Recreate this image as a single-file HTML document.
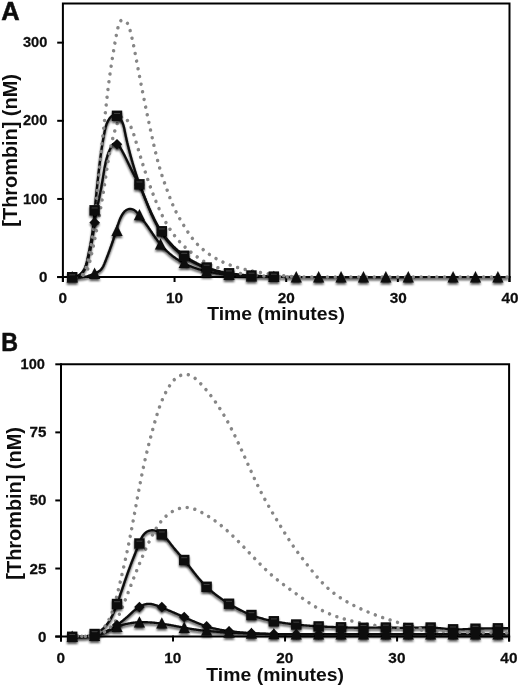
<!DOCTYPE html>
<html><head><meta charset="utf-8"><title>Thrombin generation</title>
<style>
html,body{margin:0;padding:0;background:#fff;}
body{width:520px;height:687px;overflow:hidden;}
svg{display:block;}
text{font-family:"Liberation Sans",sans-serif;font-weight:bold;fill:#0d0d0d;}
.tk{font-size:15.4px;stroke:#0d0d0d;stroke-width:0.25px;}
.ttl{font-size:18.8px;}
.pl{font-size:25px;stroke:#0d0d0d;stroke-width:0.5px;}
.ax{stroke:#000;stroke-width:2.0;fill:none;stroke-linecap:square;}
.ln{stroke:#0a0a0a;stroke-width:2.35;fill:none;stroke-linejoin:round;}
.dot{stroke:#868686;stroke-width:3.5;fill:none;stroke-linecap:round;stroke-dasharray:0.01 7.8;}
.mk{fill:#0c0c0c;}
</style></head><body>
<svg width="520" height="687" viewBox="0 0 520 687">
<defs>
<filter id="sh" x="-20%" y="-20%" width="140%" height="150%"><feGaussianBlur in="SourceAlpha" stdDeviation="1.3"/><feOffset dx="0" dy="1.7"/><feComponentTransfer><feFuncA type="linear" slope="0.7"/></feComponentTransfer><feMerge><feMergeNode/><feMergeNode in="SourceGraphic"/></feMerge></filter>
<filter id="soft"><feGaussianBlur stdDeviation="0.35"/></filter>
</defs>
<rect width="520" height="687" fill="#fff"/>
<g filter="url(#soft)">

<path class="ax" d="M62.90 281.00 V3.60 H509.50 V281.00"/>
<path class="ax" d="M58.20 277.10 H509.50"/>
<path class="ax" d="M58.20 42.65 H62.90"/>
<text class="tk" text-anchor="end" transform="translate(47.30 47.25) scale(0.950 1)">300</text>
<path class="ax" d="M58.20 120.80 H62.90"/>
<text class="tk" text-anchor="end" transform="translate(47.30 125.40) scale(0.950 1)">200</text>
<path class="ax" d="M58.20 198.95 H62.90"/>
<text class="tk" text-anchor="end" transform="translate(47.30 203.55) scale(0.950 1)">100</text>
<path class="ax" d="M58.20 277.10 H62.90"/>
<text class="tk" text-anchor="end" transform="translate(47.40 281.70) scale(0.985 1)">0</text>
<path class="ax" d="M62.90 277.10 V281.00"/>
<text class="tk" text-anchor="middle" transform="translate(62.70 303.10) scale(0.997 1)">0</text>
<path class="ax" d="M174.55 277.10 V281.00"/>
<text class="tk" text-anchor="middle" transform="translate(174.53 303.10) scale(0.997 1)">10</text>
<path class="ax" d="M286.20 277.10 V281.00"/>
<text class="tk" text-anchor="middle" transform="translate(286.35 303.10) scale(0.997 1)">20</text>
<path class="ax" d="M397.85 277.10 V281.00"/>
<text class="tk" text-anchor="middle" transform="translate(398.18 303.10) scale(0.997 1)">30</text>
<path class="ax" d="M509.50 277.10 V281.00"/>
<text class="tk" text-anchor="middle" transform="translate(510.00 303.10) scale(0.997 1)">40</text>
<g filter="url(#sh)">
<path class="ln" d="M72.00 277.00 L73.06 277.19 L74.10 277.34 L75.14 277.46 L76.16 277.53 L77.18 277.58 L78.19 277.58 L79.19 277.56 L80.18 277.50 L81.17 277.41 L82.16 277.29 L83.13 277.15 L84.11 276.97 L85.08 276.77 L86.04 276.54 L87.00 276.29 L87.96 276.01 L88.92 275.71 L89.88 275.39 L90.84 275.05 L91.79 274.69 L92.75 274.32 L93.71 273.92 L94.67 273.51 L95.63 273.08 L96.58 272.63 L97.51 272.15 L98.40 271.63 L99.25 271.07 L100.04 270.46 L100.77 269.79 L101.43 269.06 L102.02 268.28 L102.56 267.46 L103.06 266.60 L103.51 265.71 L103.93 264.79 L104.34 263.85 L104.72 262.91 L105.10 261.96 L105.48 261.01 L105.85 260.06 L106.23 259.11 L106.60 258.16 L106.97 257.21 L107.33 256.26 L107.70 255.31 L108.06 254.36 L108.42 253.41 L108.77 252.46 L109.13 251.51 L109.48 250.56 L109.83 249.61 L110.17 248.66 L110.52 247.71 L110.86 246.75 L111.20 245.80 L111.53 244.85 L111.86 243.90 L112.19 242.94 L112.52 241.99 L112.84 241.03 L113.16 240.08 L113.48 239.12 L113.80 238.17 L114.11 237.21 L114.42 236.26 L114.72 235.30 L115.02 234.34 L115.32 233.38 L115.62 232.42 L115.91 231.46 L116.20 230.50 L116.48 229.54 L116.77 228.58 L117.06 227.61 L117.35 226.65 L117.64 225.69 L117.95 224.73 L118.26 223.77 L118.58 222.82 L118.92 221.87 L119.27 220.91 L119.64 219.97 L120.03 219.02 L120.44 218.08 L120.87 217.14 L121.33 216.21 L121.81 215.29 L122.34 214.39 L122.90 213.52 L123.50 212.69 L124.16 211.91 L124.88 211.20 L125.67 210.56 L126.52 210.01 L127.42 209.55 L128.37 209.21 L129.34 209.00 L130.32 208.94 L131.30 209.02 L132.26 209.25 L133.19 209.60 L134.09 210.07 L134.94 210.63 L135.73 211.27 L136.47 211.99 L137.17 212.75 L137.83 213.55 L138.46 214.37 L139.09 215.19 L139.72 216.01 L140.36 216.81 L140.99 217.61 L141.63 218.40 L142.26 219.19 L142.89 219.97 L143.51 220.76 L144.13 221.55 L144.74 222.35 L145.35 223.15 L145.94 223.96 L146.53 224.77 L147.12 225.59 L147.70 226.41 L148.27 227.23 L148.84 228.06 L149.41 228.89 L149.97 229.72 L150.54 230.56 L151.10 231.39 L151.66 232.22 L152.22 233.06 L152.79 233.89 L153.35 234.73 L153.92 235.56 L154.49 236.39 L155.07 237.21 L155.65 238.04 L156.24 238.86 L156.83 239.67 L157.43 240.48 L158.03 241.29 L158.65 242.08 L159.27 242.88 L159.91 243.66 L160.55 244.44 L161.20 245.21 L161.87 245.97 L162.55 246.73 L163.23 247.47 L163.93 248.21 L164.64 248.94 L165.36 249.66 L166.08 250.37 L166.82 251.07 L167.56 251.76 L168.32 252.44 L169.08 253.12 L169.86 253.78 L170.64 254.43 L171.43 255.07 L172.23 255.71 L173.03 256.33 L173.85 256.94 L174.67 257.54 L175.50 258.13 L176.33 258.71 L177.18 259.27 L178.03 259.83 L178.88 260.37 L179.75 260.90 L180.62 261.42 L181.49 261.93 L182.38 262.43 L183.26 262.91 L184.16 263.38 L185.05 263.84 L185.96 264.28 L186.87 264.72 L187.78 265.14 L188.70 265.55 L189.62 265.94 L190.55 266.33 L191.49 266.71 L192.42 267.07 L193.36 267.42 L194.31 267.77 L195.26 268.10 L196.21 268.42 L197.17 268.74 L198.13 269.04 L199.09 269.34 L200.05 269.62 L201.02 269.90 L202.00 270.17 L202.97 270.43 L203.95 270.68 L204.93 270.92 L205.91 271.15 L206.89 271.38 L207.88 271.60 L208.87 271.82 L209.86 272.02 L210.85 272.22 L211.84 272.41 L212.84 272.60 L213.83 272.78 L214.83 272.95 L215.83 273.12 L216.82 273.29 L217.82 273.44 L218.82 273.60 L219.82 273.75 L220.82 273.89 L221.82 274.03 L222.82 274.16 L223.82 274.29 L224.83 274.41 L225.83 274.54 L226.83 274.65 L227.83 274.76 L228.84 274.87 L229.84 274.98 L230.84 275.07 L231.85 275.17 L232.85 275.26 L233.86 275.35 L234.86 275.44 L235.87 275.52 L236.88 275.60 L237.88 275.67 L238.89 275.74 L239.90 275.81 L240.90 275.87 L241.91 275.94 L242.92 276.00 L243.93 276.05 L244.93 276.11 L245.94 276.16 L246.95 276.20 L247.96 276.25 L248.97 276.29 L249.98 276.33 L250.99 276.37 L252.00 276.41 L253.00 276.44 L254.01 276.48 L255.02 276.51 L256.03 276.54 L257.04 276.56 L258.05 276.59 L259.07 276.61 L260.08 276.64 L261.09 276.66 L262.10 276.68 L263.11 276.70 L264.12 276.71 L265.13 276.73 L266.14 276.75 L267.15 276.76 L268.16 276.78 L269.17 276.79 L270.18 276.80 L271.19 276.82 L272.21 276.83 L273.22 276.84 L274.23 276.85 L275.24 276.86 L276.25 276.87 L277.26 276.88 L278.27 276.89 L279.28 276.91 L280.29 276.92 L281.30 276.93 L282.31 276.94 L283.32 276.95 L284.33 276.96 L285.35 276.96 L286.36 276.97 L287.37 276.98 L288.38 276.99 L289.39 277.00 L290.40 277.01 L291.41 277.02 L292.42 277.03 L293.43 277.03 L294.44 277.04 L295.45 277.05 L296.46 277.06 L297.47 277.06 L298.48 277.07 L299.49 277.08 L300.50 277.09 L301.51 277.09 L302.52 277.10 L303.53 277.11 L304.54 277.11 L305.55 277.12 L306.56 277.12 L307.57 277.13 L308.58 277.14 L309.59 277.14 L310.60 277.15 L311.61 277.15 L312.62 277.16 L313.63 277.16 L314.64 277.17 L315.65 277.17 L316.66 277.18 L317.67 277.18 L318.68 277.19 L319.69 277.19 L320.70 277.19 L321.71 277.20 L322.72 277.20 L323.73 277.21 L324.74 277.21 L325.75 277.21 L326.76 277.22 L327.77 277.22 L328.78 277.22 L329.79 277.22 L330.80 277.23 L331.81 277.23 L332.82 277.23 L333.83 277.24 L334.84 277.24 L335.85 277.24 L336.86 277.24 L337.87 277.24 L338.88 277.25 L339.89 277.25 L340.90 277.25 L341.91 277.25 L342.92 277.25 L343.93 277.25 L344.93 277.26 L345.94 277.26 L346.95 277.26 L347.96 277.26 L348.97 277.26 L349.98 277.26 L350.99 277.26 L352.00 277.26 L353.01 277.26 L354.02 277.26 L355.03 277.26 L356.04 277.26 L357.05 277.27 L358.06 277.27 L359.07 277.27 L360.08 277.27 L361.09 277.27 L362.10 277.27 L363.10 277.27 L364.11 277.27 L365.12 277.27 L366.13 277.26 L367.14 277.26 L368.15 277.26 L369.16 277.26 L370.17 277.26 L371.18 277.26 L372.19 277.26 L373.20 277.26 L374.21 277.26 L375.22 277.26 L376.23 277.26 L377.24 277.26 L378.24 277.26 L379.25 277.25 L380.26 277.25 L381.27 277.25 L382.28 277.25 L383.29 277.25 L384.30 277.25 L385.31 277.25 L386.32 277.25 L387.33 277.24 L388.34 277.24 L389.35 277.24 L390.36 277.24 L391.37 277.24 L392.37 277.24 L393.38 277.23 L394.39 277.23 L395.40 277.23 L396.41 277.23 L397.42 277.23 L398.43 277.23 L399.44 277.22 L400.45 277.22 L401.46 277.22 L402.47 277.22 L403.48 277.22 L404.49 277.21 L405.49 277.21 L406.50 277.21 L407.51 277.21 L408.52 277.21 L409.53 277.21 L410.54 277.20 L411.55 277.20 L412.56 277.20 L413.57 277.20 L414.58 277.20 L415.59 277.19 L416.60 277.19 L417.61 277.19 L418.62 277.19 L419.63 277.19 L420.63 277.18 L421.64 277.18 L422.65 277.18 L423.66 277.18 L424.67 277.18 L425.68 277.17 L426.69 277.17 L427.70 277.17 L428.71 277.17 L429.72 277.17 L430.73 277.16 L431.74 277.16 L432.75 277.16 L433.76 277.16 L434.77 277.16 L435.78 277.16 L436.79 277.15 L437.80 277.15 L438.80 277.15 L439.81 277.15 L440.82 277.15 L441.83 277.15 L442.84 277.14 L443.85 277.14 L444.86 277.14 L445.87 277.14 L446.88 277.14 L447.89 277.14 L448.90 277.14 L449.91 277.14 L450.92 277.13 L451.93 277.13 L452.94 277.13 L453.95 277.13 L454.96 277.13 L455.97 277.13 L456.98 277.13 L457.99 277.13 L459.00 277.13 L460.01 277.13 L461.02 277.13 L462.03 277.13 L463.04 277.13 L464.05 277.13 L465.06 277.13 L466.07 277.12 L467.08 277.12 L468.09 277.12 L469.10 277.12 L470.11 277.12 L471.12 277.12 L472.13 277.13 L473.14 277.13 L474.15 277.13 L475.16 277.13 L476.17 277.13 L477.18 277.13 L478.19 277.13 L479.20 277.13 L480.21 277.13 L481.22 277.13 L482.23 277.13 L483.24 277.13 L484.25 277.13 L485.26 277.14 L486.27 277.14 L487.28 277.14 L488.29 277.14 L489.30 277.14 L490.31 277.14 L491.32 277.15 L492.33 277.15 L493.34 277.15 L494.35 277.15 L495.36 277.15 L496.37 277.16 L497.38 277.16 L498.39 277.16 L499.40 277.17 L500.41 277.17 L501.43 277.17 L502.44 277.17 L503.45 277.18 L504.46 277.18 L505.47 277.19 L506.48 277.19 L507.49 277.19 L508.50 277.20"/>
<path class="ln" d="M72.00 277.20 L72.71 277.17 L73.43 277.09 L74.15 276.98 L74.89 276.82 L75.62 276.63 L76.35 276.39 L77.08 276.12 L77.79 275.82 L78.50 275.48 L79.19 275.11 L79.86 274.71 L80.50 274.28 L81.12 273.81 L81.71 273.32 L82.27 272.80 L82.79 272.26 L83.27 271.68 L83.71 271.09 L84.11 270.47 L84.48 269.84 L84.82 269.18 L85.13 268.51 L85.41 267.83 L85.67 267.13 L85.92 266.42 L86.15 265.71 L86.37 264.99 L86.58 264.27 L86.79 263.54 L86.99 262.81 L87.20 262.09 L87.40 261.36 L87.60 260.63 L87.79 259.91 L87.99 259.18 L88.18 258.45 L88.37 257.72 L88.56 257.00 L88.74 256.27 L88.93 255.54 L89.11 254.81 L89.29 254.08 L89.47 253.35 L89.64 252.62 L89.81 251.89 L89.98 251.16 L90.15 250.43 L90.31 249.70 L90.48 248.97 L90.64 248.24 L90.79 247.51 L90.94 246.77 L91.10 246.04 L91.24 245.31 L91.39 244.57 L91.53 243.84 L91.67 243.10 L91.80 242.37 L91.94 241.63 L92.07 240.89 L92.19 240.15 L92.31 239.41 L92.43 238.68 L92.55 237.94 L92.67 237.19 L92.78 236.45 L92.89 235.71 L92.99 234.97 L93.10 234.23 L93.20 233.48 L93.30 232.74 L93.40 232.00 L93.50 231.25 L93.60 230.51 L93.69 229.76 L93.79 229.02 L93.89 228.27 L93.98 227.53 L94.08 226.78 L94.17 226.04 L94.27 225.29 L94.36 224.55 L94.46 223.80 L94.56 223.06 L94.65 222.32 L94.75 221.57 L94.85 220.83 L94.96 220.08 L95.06 219.34 L95.17 218.60 L95.27 217.85 L95.38 217.11 L95.50 216.37 L95.61 215.63 L95.73 214.89 L95.85 214.15 L95.98 213.41 L96.10 212.67 L96.24 211.93 L96.37 211.19 L96.51 210.46 L96.65 209.72 L96.80 208.99 L96.95 208.25 L97.11 207.52 L97.27 206.79 L97.43 206.05 L97.59 205.32 L97.75 204.59 L97.91 203.86 L98.08 203.13 L98.24 202.40 L98.41 201.66 L98.57 200.93 L98.73 200.20 L98.89 199.47 L99.05 198.73 L99.21 198.00 L99.36 197.26 L99.51 196.53 L99.66 195.79 L99.81 195.06 L99.96 194.32 L100.11 193.59 L100.25 192.85 L100.40 192.11 L100.54 191.38 L100.68 190.64 L100.82 189.90 L100.95 189.17 L101.09 188.43 L101.22 187.69 L101.36 186.95 L101.49 186.21 L101.62 185.47 L101.75 184.73 L101.88 183.99 L102.01 183.25 L102.14 182.52 L102.26 181.78 L102.39 181.04 L102.51 180.30 L102.64 179.56 L102.76 178.82 L102.88 178.08 L103.00 177.33 L103.12 176.59 L103.25 175.85 L103.37 175.11 L103.48 174.37 L103.60 173.63 L103.72 172.89 L103.85 172.15 L103.97 171.41 L104.09 170.67 L104.22 169.94 L104.34 169.20 L104.47 168.46 L104.60 167.72 L104.74 166.98 L104.88 166.25 L105.02 165.51 L105.17 164.78 L105.32 164.05 L105.48 163.31 L105.64 162.58 L105.80 161.85 L105.98 161.12 L106.15 160.40 L106.34 159.67 L106.53 158.94 L106.73 158.22 L106.94 157.50 L107.15 156.78 L107.37 156.06 L107.60 155.34 L107.84 154.62 L108.09 153.91 L108.35 153.20 L108.62 152.49 L108.90 151.78 L109.19 151.07 L109.49 150.37 L109.80 149.67 L110.12 148.97 L110.46 148.27 L110.80 147.57 L111.16 146.88 L111.53 146.19 L111.93 145.53 L112.35 144.92 L112.82 144.39 L113.34 143.98 L113.92 143.70 L114.58 143.59 L115.29 143.64 L116.01 143.83 L116.71 144.13 L117.36 144.50 L117.96 144.94 L118.52 145.44 L119.04 146.00 L119.52 146.60 L119.98 147.23 L120.41 147.89 L120.82 148.57 L121.22 149.25 L121.61 149.94 L121.99 150.63 L122.37 151.31 L122.74 152.00 L123.10 152.68 L123.46 153.36 L123.82 154.04 L124.17 154.71 L124.51 155.39 L124.85 156.07 L125.19 156.74 L125.52 157.41 L125.85 158.08 L126.18 158.76 L126.50 159.43 L126.82 160.10 L127.14 160.76 L127.46 161.43 L127.78 162.10 L128.09 162.77 L128.41 163.43 L128.72 164.10 L129.04 164.76 L129.35 165.43 L129.67 166.09 L129.99 166.76 L130.31 167.42 L130.63 168.09 L130.95 168.75 L131.27 169.41 L131.60 170.08 L131.93 170.74 L132.27 171.41 L132.60 172.07 L132.94 172.74 L133.29 173.40 L133.64 174.07 L133.99 174.74 L134.34 175.40 L134.70 176.07 L135.06 176.74 L135.42 177.41 L135.78 178.08 L136.14 178.75 L136.50 179.42 L136.86 180.09 L137.22 180.76 L137.57 181.44 L137.92 182.11 L138.27 182.79 L138.62 183.46 L138.96 184.14 L139.30 184.82 L139.63 185.50 L139.95 186.18 L140.28 186.86 L140.59 187.54 L140.90 188.22 L141.21 188.91 L141.51 189.59 L141.81 190.28 L142.11 190.97 L142.40 191.65 L142.69 192.34 L142.98 193.03 L143.26 193.72 L143.54 194.41 L143.82 195.10 L144.10 195.79 L144.37 196.48 L144.64 197.17 L144.92 197.87 L145.19 198.56 L145.46 199.25 L145.73 199.94 L146.00 200.64 L146.26 201.33 L146.53 202.02 L146.80 202.72 L147.07 203.41 L147.34 204.10 L147.61 204.80 L147.89 205.49 L148.16 206.18 L148.44 206.88 L148.71 207.57 L148.99 208.26 L149.27 208.95 L149.56 209.64 L149.85 210.34 L150.14 211.03 L150.43 211.72 L150.73 212.41 L151.03 213.10 L151.33 213.79 L151.64 214.47 L151.95 215.16 L152.26 215.85 L152.58 216.53 L152.90 217.21 L153.23 217.90 L153.55 218.58 L153.88 219.26 L154.22 219.93 L154.56 220.61 L154.90 221.29 L155.25 221.96 L155.60 222.63 L155.95 223.30 L156.31 223.97 L156.67 224.63 L157.03 225.30 L157.40 225.96 L157.77 226.62 L158.15 227.27 L158.53 227.93 L158.91 228.58 L159.30 229.23 L159.70 229.88 L160.09 230.52 L160.49 231.16 L160.90 231.80 L161.31 232.43 L161.72 233.07 L162.14 233.69 L162.56 234.32 L162.98 234.94 L163.41 235.56 L163.85 236.18 L164.29 236.79 L164.73 237.40 L165.18 238.00 L165.63 238.60 L166.09 239.20 L166.55 239.79 L167.02 240.38 L167.49 240.96 L167.96 241.54 L168.44 242.12 L168.93 242.69 L169.42 243.26 L169.91 243.82 L170.41 244.38 L170.91 244.93 L171.42 245.48 L171.94 246.03 L172.45 246.56 L172.98 247.10 L173.51 247.63 L174.04 248.15 L174.58 248.67 L175.12 249.18 L175.67 249.69 L176.22 250.20 L176.78 250.69 L177.34 251.19 L177.90 251.68 L178.47 252.16 L179.05 252.64 L179.62 253.11 L180.21 253.58 L180.79 254.04 L181.38 254.50 L181.98 254.96 L182.58 255.40 L183.18 255.85 L183.79 256.28 L184.40 256.72 L185.01 257.14 L185.63 257.57 L186.25 257.98 L186.88 258.40 L187.51 258.80 L188.14 259.21 L188.77 259.60 L189.41 260.00 L190.05 260.38 L190.70 260.76 L191.35 261.14 L192.00 261.51 L192.66 261.88 L193.31 262.24 L193.97 262.60 L194.64 262.95 L195.31 263.29 L195.98 263.64 L196.65 263.97 L197.32 264.30 L198.00 264.63 L198.68 264.95 L199.36 265.26 L200.05 265.57 L200.74 265.88 L201.43 266.18 L202.12 266.47 L202.81 266.76 L203.51 267.04 L204.21 267.32 L204.91 267.60 L205.61 267.87 L206.32 268.13 L207.02 268.39 L207.73 268.64 L208.44 268.89 L209.15 269.13 L209.87 269.37 L210.58 269.60 L211.30 269.83 L212.02 270.05 L212.74 270.27 L213.46 270.48 L214.18 270.68 L214.91 270.88 L215.63 271.08 L216.36 271.27 L217.08 271.45 L217.81 271.63 L218.54 271.81 L219.27 271.98 L220.00 272.14 L220.74 272.30 L221.47 272.46 L222.20 272.61 L222.94 272.75 L223.67 272.89 L224.41 273.03 L225.15 273.16 L225.89 273.29 L226.62 273.41 L227.36 273.53 L228.10 273.65 L228.84 273.76 L229.59 273.86 L230.33 273.97 L231.07 274.07 L231.81 274.16 L232.56 274.26 L233.30 274.35 L234.05 274.43 L234.79 274.51 L235.54 274.59 L236.29 274.67 L237.03 274.75 L237.78 274.82 L238.53 274.89 L239.28 274.95 L240.03 275.01 L240.77 275.08 L241.52 275.13 L242.27 275.19 L243.02 275.25 L243.77 275.30 L244.52 275.35 L245.27 275.40 L246.03 275.44 L246.78 275.49 L247.53 275.53 L248.28 275.57 L249.03 275.61 L249.78 275.65 L250.53 275.69 L251.28 275.73 L252.04 275.77 L252.79 275.80 L253.54 275.84 L254.29 275.87 L255.04 275.90 L255.79 275.94 L256.55 275.97 L257.30 276.00 L258.05 276.03 L258.80 276.06 L259.55 276.09 L260.30 276.13 L261.05 276.16 L261.80 276.19 L262.55 276.22 L263.30 276.26 L264.05 276.29 L264.80 276.32 L265.54 276.36 L266.29 276.39 L267.04 276.43 L267.79 276.47 L268.53 276.51 L269.28 276.55 L270.03 276.59 L270.77 276.63 L271.52 276.67 L272.26 276.72 L273.00 276.77 L273.75 276.81"/>
<path class="ln" d="M71.98 277.19 L72.93 277.18 L73.85 277.11 L74.73 276.96 L75.59 276.75 L76.41 276.49 L77.20 276.16 L77.96 275.78 L78.69 275.36 L79.38 274.88 L80.05 274.36 L80.68 273.80 L81.28 273.20 L81.85 272.57 L82.39 271.90 L82.90 271.21 L83.38 270.50 L83.83 269.76 L84.25 269.00 L84.64 268.23 L85.00 267.45 L85.33 266.66 L85.63 265.86 L85.92 265.05 L86.18 264.23 L86.42 263.41 L86.65 262.58 L86.86 261.74 L87.06 260.90 L87.25 260.06 L87.43 259.22 L87.61 258.37 L87.78 257.53 L87.96 256.68 L88.13 255.84 L88.31 254.99 L88.48 254.15 L88.66 253.31 L88.83 252.46 L89.00 251.62 L89.17 250.77 L89.34 249.93 L89.51 249.09 L89.68 248.24 L89.84 247.40 L90.01 246.56 L90.17 245.71 L90.33 244.87 L90.49 244.02 L90.65 243.18 L90.80 242.34 L90.95 241.49 L91.10 240.65 L91.25 239.80 L91.40 238.95 L91.54 238.11 L91.68 237.26 L91.82 236.42 L91.95 235.57 L92.08 234.72 L92.21 233.87 L92.34 233.02 L92.46 232.18 L92.58 231.33 L92.69 230.47 L92.80 229.62 L92.91 228.77 L93.02 227.92 L93.12 227.07 L93.22 226.21 L93.31 225.36 L93.41 224.50 L93.50 223.65 L93.59 222.79 L93.67 221.94 L93.76 221.08 L93.84 220.23 L93.92 219.37 L94.01 218.51 L94.08 217.66 L94.16 216.80 L94.24 215.94 L94.32 215.09 L94.40 214.23 L94.47 213.37 L94.55 212.51 L94.63 211.66 L94.70 210.80 L94.78 209.94 L94.86 209.08 L94.94 208.23 L95.02 207.37 L95.10 206.51 L95.18 205.66 L95.26 204.80 L95.34 203.94 L95.42 203.09 L95.50 202.23 L95.58 201.37 L95.67 200.52 L95.75 199.66 L95.83 198.81 L95.92 197.95 L96.00 197.09 L96.09 196.24 L96.17 195.38 L96.26 194.53 L96.35 193.67 L96.43 192.82 L96.52 191.96 L96.61 191.10 L96.70 190.25 L96.79 189.39 L96.88 188.54 L96.97 187.68 L97.06 186.83 L97.15 185.97 L97.24 185.12 L97.33 184.27 L97.42 183.41 L97.51 182.56 L97.61 181.70 L97.70 180.85 L97.79 179.99 L97.89 179.14 L97.98 178.29 L98.07 177.43 L98.17 176.58 L98.26 175.72 L98.36 174.87 L98.46 174.02 L98.55 173.16 L98.65 172.31 L98.75 171.46 L98.84 170.60 L98.94 169.75 L99.04 168.90 L99.14 168.05 L99.24 167.19 L99.34 166.34 L99.44 165.49 L99.54 164.64 L99.65 163.78 L99.75 162.93 L99.85 162.08 L99.96 161.23 L100.07 160.37 L100.17 159.52 L100.28 158.67 L100.39 157.82 L100.50 156.97 L100.62 156.12 L100.73 155.27 L100.84 154.42 L100.96 153.56 L101.08 152.71 L101.20 151.86 L101.32 151.01 L101.44 150.16 L101.57 149.31 L101.69 148.46 L101.82 147.61 L101.95 146.76 L102.08 145.92 L102.21 145.07 L102.35 144.22 L102.49 143.37 L102.63 142.52 L102.77 141.67 L102.91 140.82 L103.06 139.98 L103.20 139.13 L103.36 138.28 L103.51 137.43 L103.66 136.59 L103.82 135.74 L103.98 134.89 L104.14 134.05 L104.31 133.20 L104.48 132.35 L104.65 131.51 L104.82 130.66 L105.00 129.82 L105.19 128.98 L105.39 128.14 L105.61 127.30 L105.84 126.47 L106.08 125.64 L106.35 124.82 L106.64 124.00 L106.96 123.19 L107.30 122.39 L107.67 121.59 L108.07 120.81 L108.51 120.03 L108.99 119.26 L109.50 118.51 L110.05 117.79 L110.64 117.13 L111.27 116.54 L111.93 116.03 L112.64 115.64 L113.38 115.38 L114.16 115.25 L114.95 115.26 L115.75 115.39 L116.53 115.65 L117.28 116.02 L117.99 116.49 L118.68 117.05 L119.32 117.68 L119.93 118.38 L120.50 119.12 L121.02 119.90 L121.50 120.70 L121.94 121.51 L122.33 122.32 L122.68 123.14 L123.00 123.96 L123.28 124.78 L123.53 125.60 L123.76 126.42 L123.97 127.25 L124.16 128.07 L124.33 128.90 L124.50 129.73 L124.66 130.56 L124.83 131.40 L124.99 132.23 L125.16 133.06 L125.33 133.90 L125.50 134.73 L125.68 135.57 L125.86 136.40 L126.04 137.24 L126.22 138.08 L126.41 138.92 L126.60 139.75 L126.79 140.59 L126.99 141.43 L127.19 142.27 L127.38 143.11 L127.59 143.94 L127.79 144.78 L127.99 145.62 L128.20 146.46 L128.41 147.29 L128.62 148.13 L128.83 148.96 L129.04 149.80 L129.26 150.63 L129.48 151.47 L129.69 152.30 L129.91 153.13 L130.14 153.97 L130.36 154.80 L130.58 155.63 L130.81 156.46 L131.04 157.29 L131.27 158.12 L131.50 158.95 L131.73 159.78 L131.97 160.61 L132.20 161.43 L132.44 162.26 L132.68 163.09 L132.92 163.91 L133.17 164.74 L133.41 165.56 L133.66 166.39 L133.91 167.21 L134.16 168.03 L134.41 168.85 L134.67 169.67 L134.92 170.49 L135.18 171.31 L135.44 172.13 L135.70 172.95 L135.97 173.77 L136.23 174.59 L136.50 175.40 L136.77 176.22 L137.04 177.03 L137.32 177.85 L137.59 178.66 L137.87 179.47 L138.15 180.28 L138.43 181.09 L138.71 181.91 L139.00 182.71 L139.29 183.52 L139.58 184.33 L139.87 185.14 L140.16 185.95 L140.46 186.75 L140.76 187.56 L141.06 188.36 L141.36 189.16 L141.66 189.97 L141.97 190.77 L142.28 191.57 L142.59 192.37 L142.90 193.17 L143.21 193.97 L143.53 194.77 L143.85 195.56 L144.17 196.36 L144.49 197.16 L144.81 197.95 L145.14 198.75 L145.47 199.54 L145.80 200.34 L146.13 201.13 L146.46 201.92 L146.80 202.71 L147.14 203.51 L147.48 204.30 L147.82 205.09 L148.16 205.88 L148.51 206.67 L148.85 207.45 L149.20 208.24 L149.56 209.03 L149.91 209.82 L150.26 210.60 L150.62 211.39 L150.98 212.17 L151.34 212.96 L151.71 213.74 L152.07 214.52 L152.44 215.30 L152.81 216.08 L153.19 216.86 L153.57 217.63 L153.95 218.41 L154.34 219.18 L154.73 219.95 L155.12 220.71 L155.52 221.48 L155.92 222.24 L156.33 223.00 L156.74 223.76 L157.15 224.51 L157.58 225.26 L158.00 226.01 L158.43 226.76 L158.87 227.50 L159.31 228.24 L159.76 228.97 L160.21 229.70 L160.67 230.43 L161.14 231.15 L161.61 231.87 L162.09 232.58 L162.57 233.29 L163.07 234.00 L163.56 234.70 L164.07 235.39 L164.58 236.08 L165.09 236.77 L165.61 237.45 L166.14 238.13 L166.68 238.80 L167.22 239.47 L167.76 240.13 L168.32 240.79 L168.87 241.44 L169.44 242.09 L170.01 242.73 L170.59 243.37 L171.17 244.00 L171.76 244.62 L172.35 245.25 L172.95 245.86 L173.55 246.47 L174.17 247.07 L174.78 247.67 L175.40 248.26 L176.03 248.85 L176.67 249.43 L177.30 250.00 L177.95 250.57 L178.60 251.13 L179.26 251.69 L179.92 252.24 L180.58 252.78 L181.25 253.32 L181.93 253.85 L182.61 254.38 L183.30 254.89 L184.00 255.41 L184.69 255.91 L185.40 256.41 L186.11 256.90 L186.82 257.38 L187.54 257.86 L188.26 258.33 L188.99 258.80 L189.72 259.25 L190.46 259.70 L191.20 260.15 L191.95 260.58 L192.69 261.01 L193.45 261.43 L194.21 261.85 L194.97 262.26 L195.73 262.66 L196.50 263.05 L197.27 263.44 L198.05 263.82 L198.83 264.20 L199.61 264.56 L200.39 264.92 L201.18 265.27 L201.97 265.62 L202.76 265.96 L203.56 266.29 L204.36 266.61 L205.16 266.92 L205.96 267.23 L206.77 267.53 L207.57 267.83 L208.38 268.12 L209.19 268.39 L210.01 268.67 L210.82 268.93 L211.64 269.19 L212.46 269.44 L213.28 269.69 L214.10 269.93 L214.93 270.16 L215.75 270.39 L216.58 270.61 L217.41 270.82 L218.24 271.03 L219.07 271.23 L219.90 271.43 L220.74 271.62 L221.57 271.80 L222.41 271.98 L223.25 272.16 L224.09 272.32 L224.93 272.49 L225.78 272.65 L226.62 272.80 L227.47 272.95 L228.31 273.09 L229.16 273.23 L230.01 273.37 L230.86 273.50 L231.71 273.62 L232.56 273.74 L233.41 273.86 L234.26 273.98 L235.12 274.09 L235.97 274.19 L236.83 274.29 L237.68 274.39 L238.54 274.49 L239.40 274.58 L240.26 274.67 L241.11 274.75 L241.97 274.83 L242.83 274.91 L243.69 274.99 L244.55 275.06 L245.41 275.13 L246.27 275.20 L247.13 275.26 L248.00 275.32 L248.86 275.38 L249.72 275.44 L250.58 275.50 L251.44 275.55 L252.30 275.60 L253.17 275.65 L254.03 275.70 L254.89 275.75 L255.75 275.80 L256.61 275.84 L257.47 275.88 L258.33 275.92 L259.19 275.96 L260.05 276.00 L260.91 276.04 L261.77 276.08 L262.63 276.12 L263.49 276.16 L264.35 276.19 L265.21 276.23 L266.07 276.26 L266.92 276.30 L267.78 276.33 L268.63 276.37 L269.49 276.41 L270.34 276.44 L271.19 276.48 L272.05 276.51 L272.90 276.55 L273.75 276.59"/>
</g>
<path class="dot" stroke-dashoffset="-2.8" d="M72.93 277.03 L74.27 277.30 L75.52 277.43 L76.68 277.44 L77.75 277.33 L78.74 277.11 L79.66 276.78 L80.50 276.36 L81.27 275.85 L81.98 275.26 L82.63 274.60 L83.22 273.86 L83.76 273.06 L84.26 272.21 L84.72 271.31 L85.13 270.37 L85.52 269.40 L85.88 268.40 L86.21 267.37 L86.52 266.34 L86.82 265.30 L87.11 264.26 L87.39 263.23 L87.66 262.20 L87.92 261.16 L88.17 260.13 L88.41 259.11 L88.65 258.08 L88.88 257.06 L89.10 256.04 L89.32 255.02 L89.52 254.00 L89.73 252.98 L89.92 251.96 L90.11 250.94 L90.30 249.93 L90.48 248.91 L90.65 247.89 L90.82 246.88 L90.99 245.86 L91.16 244.85 L91.32 243.83 L91.47 242.82 L91.63 241.80 L91.78 240.78 L91.93 239.77 L92.08 238.75 L92.22 237.73 L92.37 236.71 L92.51 235.69 L92.65 234.67 L92.78 233.64 L92.92 232.62 L93.05 231.60 L93.18 230.58 L93.31 229.55 L93.44 228.53 L93.56 227.50 L93.69 226.48 L93.81 225.45 L93.93 224.42 L94.05 223.40 L94.17 222.37 L94.28 221.34 L94.40 220.32 L94.51 219.29 L94.62 218.26 L94.74 217.23 L94.85 216.20 L94.95 215.17 L95.06 214.14 L95.17 213.11 L95.27 212.08 L95.38 211.05 L95.48 210.02 L95.58 208.99 L95.69 207.95 L95.79 206.92 L95.89 205.89 L95.99 204.86 L96.09 203.82 L96.18 202.79 L96.28 201.76 L96.38 200.73 L96.48 199.69 L96.57 198.66 L96.67 197.63 L96.77 196.59 L96.86 195.56 L96.96 194.53 L97.06 193.49 L97.15 192.46 L97.25 191.43 L97.34 190.39 L97.44 189.36 L97.54 188.33 L97.63 187.29 L97.73 186.26 L97.83 185.23 L97.92 184.19 L98.02 183.16 L98.12 182.13 L98.22 181.10 L98.32 180.06 L98.42 179.03 L98.52 178.00 L98.62 176.97 L98.72 175.93 L98.82 174.90 L98.92 173.87 L99.02 172.84 L99.12 171.81 L99.23 170.77 L99.33 169.74 L99.43 168.71 L99.54 167.68 L99.64 166.65 L99.75 165.62 L99.85 164.59 L99.96 163.56 L100.06 162.53 L100.17 161.50 L100.27 160.47 L100.38 159.43 L100.49 158.40 L100.59 157.37 L100.70 156.34 L100.81 155.31 L100.91 154.28 L101.02 153.25 L101.13 152.22 L101.24 151.19 L101.35 150.16 L101.45 149.13 L101.56 148.10 L101.67 147.08 L101.78 146.05 L101.89 145.02 L102.00 143.99 L102.11 142.96 L102.22 141.93 L102.33 140.90 L102.44 139.87 L102.55 138.84 L102.66 137.81 L102.77 136.78 L102.88 135.75 L102.99 134.72 L103.10 133.70 L103.21 132.67 L103.32 131.64 L103.43 130.61 L103.54 129.58 L103.65 128.55 L103.76 127.52 L103.88 126.49 L103.99 125.47 L104.10 124.44 L104.21 123.41 L104.32 122.38 L104.43 121.35 L104.54 120.32 L104.65 119.29 L104.76 118.27 L104.87 117.24 L104.98 116.21 L105.09 115.18 L105.20 114.15 L105.31 113.12 L105.42 112.10 L105.53 111.07 L105.64 110.04 L105.75 109.01 L105.86 107.98 L105.97 106.95 L106.08 105.93 L106.20 104.90 L106.31 103.87 L106.42 102.84 L106.53 101.81 L106.64 100.78 L106.76 99.75 L106.87 98.72 L106.99 97.70 L107.10 96.67 L107.22 95.64 L107.34 94.61 L107.46 93.58 L107.58 92.55 L107.70 91.52 L107.82 90.49 L107.94 89.46 L108.07 88.43 L108.20 87.40 L108.32 86.38 L108.45 85.35 L108.58 84.32 L108.71 83.29 L108.85 82.26 L108.98 81.23 L109.12 80.20 L109.26 79.17 L109.40 78.14 L109.54 77.11 L109.69 76.08 L109.83 75.05 L109.98 74.02 L110.12 72.99 L110.27 71.96 L110.42 70.93 L110.58 69.90 L110.73 68.87 L110.88 67.85 L111.04 66.82 L111.20 65.79 L111.35 64.77 L111.51 63.74 L111.67 62.72 L111.83 61.69 L111.99 60.67 L112.16 59.65 L112.32 58.62 L112.49 57.60 L112.65 56.58 L112.82 55.57 L112.98 54.55 L113.15 53.53 L113.32 52.52 L113.49 51.50 L113.66 50.49 L113.83 49.48 L114.00 48.46 L114.17 47.46 L114.34 46.45 L114.51 45.44 L114.68 44.44 L114.86 43.43 L115.03 42.43 L115.20 41.43 L115.38 40.43 L115.56 39.42 L115.74 38.42 L115.92 37.40 L116.11 36.39 L116.31 35.37 L116.51 34.34 L116.72 33.30 L116.94 32.25 L117.17 31.19 L117.41 30.11 L117.65 29.02 L117.91 27.92 L118.19 26.80 L118.47 25.67 L118.79 24.55 L119.14 23.48 L119.54 22.51 L120.01 21.65 L120.56 20.96 L121.21 20.47 L121.96 20.21 L122.80 20.19 L123.69 20.38 L124.59 20.75 L125.47 21.27 L126.27 21.92 L126.97 22.66 L127.57 23.48 L128.08 24.37 L128.52 25.31 L128.89 26.29 L129.22 27.30 L129.53 28.34 L129.81 29.37 L130.09 30.41 L130.36 31.45 L130.63 32.48 L130.89 33.51 L131.15 34.54 L131.40 35.57 L131.64 36.60 L131.88 37.62 L132.12 38.65 L132.35 39.67 L132.57 40.69 L132.80 41.71 L133.02 42.73 L133.23 43.75 L133.44 44.77 L133.65 45.79 L133.86 46.80 L134.06 47.82 L134.27 48.84 L134.46 49.85 L134.66 50.86 L134.86 51.88 L135.05 52.89 L135.24 53.90 L135.44 54.92 L135.63 55.93 L135.82 56.94 L136.01 57.95 L136.20 58.97 L136.39 59.98 L136.58 60.99 L136.77 62.01 L136.96 63.02 L137.15 64.03 L137.34 65.04 L137.54 66.06 L137.73 67.07 L137.92 68.09 L138.12 69.10 L138.31 70.11 L138.50 71.13 L138.70 72.14 L138.90 73.16 L139.09 74.17 L139.29 75.19 L139.48 76.20 L139.68 77.21 L139.88 78.23 L140.08 79.24 L140.27 80.26 L140.47 81.28 L140.67 82.29 L140.87 83.31 L141.07 84.32 L141.27 85.34 L141.47 86.35 L141.67 87.37 L141.87 88.38 L142.08 89.40 L142.28 90.41 L142.48 91.43 L142.68 92.45 L142.89 93.46 L143.09 94.48 L143.30 95.49 L143.50 96.51 L143.71 97.52 L143.91 98.54 L144.12 99.56 L144.32 100.57 L144.53 101.59 L144.74 102.60 L144.95 103.62 L145.16 104.64 L145.36 105.65 L145.57 106.67 L145.78 107.68 L145.99 108.70 L146.20 109.71 L146.42 110.73 L146.63 111.74 L146.84 112.76 L147.05 113.77 L147.26 114.79 L147.48 115.81 L147.69 116.82 L147.91 117.84 L148.12 118.85 L148.34 119.86 L148.55 120.88 L148.77 121.89 L148.98 122.91 L149.20 123.92 L149.42 124.94 L149.64 125.95 L149.86 126.97 L150.07 127.98 L150.29 128.99 L150.51 130.01 L150.73 131.02 L150.95 132.03 L151.18 133.05 L151.40 134.06 L151.62 135.07 L151.84 136.09 L152.07 137.10 L152.29 138.11 L152.51 139.12 L152.74 140.13 L152.96 141.15 L153.19 142.16 L153.42 143.17 L153.65 144.18 L153.88 145.19 L154.11 146.20 L154.34 147.21 L154.57 148.22 L154.81 149.23 L155.05 150.23 L155.29 151.24 L155.53 152.25 L155.77 153.25 L156.02 154.26 L156.26 155.26 L156.51 156.27 L156.77 157.27 L157.02 158.27 L157.28 159.27 L157.54 160.27 L157.81 161.27 L158.07 162.27 L158.34 163.27 L158.62 164.27 L158.90 165.26 L159.18 166.26 L159.46 167.25 L159.75 168.24 L160.04 169.23 L160.34 170.22 L160.64 171.21 L160.94 172.20 L161.25 173.18 L161.56 174.17 L161.88 175.15 L162.20 176.13 L162.53 177.11 L162.86 178.09 L163.20 179.07 L163.53 180.05 L163.88 181.03 L164.22 182.00 L164.57 182.98 L164.92 183.95 L165.27 184.93 L165.62 185.90 L165.97 186.87 L166.32 187.85 L166.68 188.82 L167.03 189.80 L167.38 190.77 L167.74 191.75 L168.09 192.73 L168.44 193.70 L168.80 194.68 L169.15 195.65 L169.51 196.63 L169.88 197.60 L170.24 198.57 L170.61 199.54 L170.99 200.50 L171.37 201.46 L171.76 202.42 L172.15 203.38 L172.55 204.33 L172.96 205.28 L173.38 206.23 L173.80 207.17 L174.23 208.10 L174.68 209.03 L175.12 209.96 L175.58 210.88 L176.04 211.81 L176.51 212.72 L176.99 213.64 L177.47 214.55 L177.96 215.46 L178.45 216.36 L178.95 217.27 L179.46 218.17 L179.97 219.06 L180.48 219.96 L181.00 220.86 L181.53 221.75 L182.06 222.64 L182.59 223.53 L183.12 224.42 L183.66 225.31 L184.20 226.20 L184.74 227.09 L185.29 227.98 L185.84 228.86 L186.39 229.75 L186.95 230.63 L187.51 231.51 L188.08 232.38 L188.66 233.25 L189.24 234.11 L189.83 234.97 L190.43 235.82 L191.04 236.67 L191.65 237.50 L192.28 238.33 L192.92 239.15 L193.56 239.96 L194.22 240.76 L194.90 241.54 L195.58 242.32 L196.27 243.09 L196.98 243.84 L197.69 244.59 L198.41 245.33 L199.15 246.05 L199.89 246.77 L200.65 247.47 L201.41 248.17 L202.19 248.85 L202.97 249.53 L203.76 250.19 L204.56 250.84 L205.37 251.49 L206.19 252.12 L207.01 252.74 L207.85 253.35 L208.69 253.95 L209.54 254.55 L210.39 255.13 L211.26 255.70 L212.13 256.26 L213.01 256.80 L213.89 257.34 L214.78 257.87 L215.68 258.39 L216.58 258.90 L217.49 259.39 L218.40 259.88 L219.32 260.36 L220.25 260.82 L221.18 261.28 L222.11 261.72 L223.05 262.15 L224.00 262.58 L224.95 262.99 L225.90 263.39 L226.86 263.79 L227.82 264.17 L228.78 264.54 L229.75 264.90 L230.72 265.26 L231.70 265.60 L232.67 265.94 L233.66 266.27 L234.64 266.58 L235.63 266.90 L236.62 267.20 L237.61 267.49 L238.61 267.78 L239.61 268.06 L240.61 268.33 L241.61 268.60 L242.61 268.86 L243.62 269.11 L244.63 269.36 L245.64 269.60 L246.65 269.84 L247.67 270.07 L248.68 270.29 L249.70 270.51 L250.71 270.73 L251.73 270.94 L252.75 271.14 L253.77 271.34 L254.79 271.54 L255.81 271.73 L256.84 271.92 L257.86 272.11 L258.88 272.29 L259.90 272.47 L260.93 272.65 L261.95 272.83 L262.97 273.00 L263.99 273.17 L265.01 273.34 L266.03 273.50 L267.05 273.67 L268.08 273.83 L269.10 273.98 L270.12 274.14 L271.14 274.29 L272.16 274.44 L273.18 274.58 L274.21 274.72 L275.23 274.86 L276.25 274.99 L277.27 275.12 L278.30 275.25 L279.32 275.37 L280.35 275.49 L281.37 275.60 L282.40 275.71 L283.43 275.81 L284.45 275.91 L285.48 276.00 L286.51 276.09 L287.55 276.17 L288.58 276.25 L289.61 276.33 L290.65 276.39 L291.68 276.46 L292.72 276.51 L293.76 276.56 L294.80 276.61 L295.84 276.65 L296.88 276.68 L297.93 276.70 L298.97 276.72 L300.02 276.74"/>
<path class="dot" stroke-dashoffset="-3.1" d="M73.00 276.99 L73.72 277.23 L74.45 277.40 L75.19 277.50 L75.94 277.55 L76.69 277.55 L77.45 277.49 L78.19 277.37 L78.93 277.21 L79.66 277.00 L80.38 276.74 L81.07 276.45 L81.75 276.11 L82.40 275.73 L83.02 275.32 L83.62 274.88 L84.17 274.40 L84.69 273.90 L85.17 273.37 L85.62 272.81 L86.03 272.23 L86.41 271.63 L86.76 271.01 L87.09 270.37 L87.39 269.71 L87.67 269.04 L87.93 268.36 L88.17 267.66 L88.40 266.95 L88.61 266.24 L88.81 265.52 L89.01 264.80 L89.20 264.07 L89.38 263.34 L89.56 262.61 L89.74 261.88 L89.92 261.16 L90.10 260.43 L90.27 259.70 L90.45 258.98 L90.62 258.26 L90.79 257.53 L90.96 256.81 L91.13 256.08 L91.30 255.36 L91.47 254.64 L91.63 253.92 L91.80 253.20 L91.96 252.48 L92.12 251.76 L92.28 251.04 L92.44 250.32 L92.60 249.60 L92.76 248.88 L92.92 248.16 L93.07 247.44 L93.23 246.72 L93.38 246.00 L93.53 245.29 L93.69 244.57 L93.84 243.85 L93.99 243.13 L94.14 242.41 L94.29 241.69 L94.43 240.98 L94.58 240.26 L94.73 239.54 L94.88 238.82 L95.02 238.10 L95.17 237.38 L95.31 236.66 L95.46 235.94 L95.60 235.22 L95.74 234.50 L95.89 233.78 L96.03 233.06 L96.17 232.34 L96.32 231.62 L96.46 230.90 L96.60 230.18 L96.74 229.45 L96.88 228.73 L97.02 228.01 L97.16 227.28 L97.30 226.56 L97.44 225.84 L97.58 225.11 L97.72 224.39 L97.85 223.66 L97.99 222.94 L98.13 222.21 L98.26 221.49 L98.40 220.76 L98.54 220.04 L98.67 219.31 L98.81 218.59 L98.94 217.86 L99.07 217.13 L99.21 216.41 L99.34 215.68 L99.47 214.96 L99.60 214.23 L99.74 213.50 L99.87 212.78 L100.00 212.05 L100.13 211.32 L100.26 210.60 L100.39 209.87 L100.51 209.14 L100.64 208.42 L100.77 207.69 L100.90 206.96 L101.02 206.24 L101.15 205.51 L101.27 204.78 L101.40 204.06 L101.52 203.33 L101.65 202.61 L101.77 201.88 L101.89 201.15 L102.01 200.43 L102.13 199.70 L102.25 198.98 L102.38 198.25 L102.49 197.53 L102.61 196.80 L102.73 196.08 L102.85 195.35 L102.97 194.63 L103.09 193.90 L103.20 193.18 L103.32 192.45 L103.43 191.73 L103.55 191.00 L103.67 190.28 L103.78 189.55 L103.89 188.82 L104.01 188.10 L104.12 187.37 L104.23 186.65 L104.35 185.92 L104.46 185.19 L104.57 184.47 L104.68 183.74 L104.79 183.01 L104.91 182.29 L105.02 181.56 L105.13 180.83 L105.24 180.10 L105.35 179.38 L105.46 178.65 L105.57 177.92 L105.68 177.19 L105.79 176.46 L105.90 175.73 L106.00 175.00 L106.11 174.27 L106.22 173.54 L106.33 172.81 L106.44 172.08 L106.55 171.35 L106.66 170.62 L106.77 169.89 L106.89 169.16 L107.00 168.43 L107.11 167.70 L107.22 166.97 L107.34 166.24 L107.45 165.51 L107.56 164.78 L107.68 164.05 L107.80 163.32 L107.91 162.59 L108.03 161.86 L108.15 161.13 L108.27 160.40 L108.39 159.67 L108.52 158.95 L108.64 158.22 L108.77 157.49 L108.89 156.77 L109.02 156.04 L109.15 155.31 L109.28 154.59 L109.41 153.86 L109.55 153.14 L109.68 152.42 L109.82 151.69 L109.96 150.97 L110.10 150.25 L110.24 149.53 L110.38 148.81 L110.53 148.09 L110.68 147.37 L110.83 146.65 L110.98 145.93 L111.13 145.21 L111.29 144.50 L111.45 143.78 L111.61 143.07 L111.78 142.35 L111.94 141.64 L112.11 140.93 L112.28 140.21 L112.45 139.50 L112.63 138.79 L112.81 138.08 L112.99 137.37 L113.17 136.66 L113.36 135.95 L113.55 135.24 L113.74 134.53 L113.94 133.82 L114.14 133.11 L114.34 132.41 L114.55 131.70 L114.76 130.99 L114.97 130.29 L115.18 129.58 L115.40 128.87 L115.62 128.17 L115.85 127.46 L116.08 126.76 L116.31 126.06 L116.55 125.35 L116.79 124.65 L117.04 123.95 L117.30 123.25 L117.58 122.56 L117.89 121.87 L118.22 121.20 L118.59 120.54 L118.99 119.89 L119.44 119.25 L119.94 118.64 L120.47 118.05 L121.04 117.53 L121.63 117.10 L122.22 116.78 L122.80 116.60 L123.37 116.58 L123.91 116.71 L124.45 116.98 L124.96 117.35 L125.45 117.82 L125.93 118.36 L126.40 118.96 L126.85 119.60 L127.28 120.27 L127.70 120.93 L128.11 121.60 L128.50 122.27 L128.89 122.95 L129.26 123.62 L129.61 124.30 L129.96 124.98 L130.29 125.66 L130.62 126.35 L130.93 127.03 L131.24 127.72 L131.53 128.41 L131.82 129.10 L132.10 129.79 L132.37 130.48 L132.63 131.18 L132.89 131.87 L133.14 132.57 L133.38 133.26 L133.62 133.96 L133.85 134.66 L134.08 135.36 L134.30 136.06 L134.52 136.76 L134.74 137.47 L134.95 138.17 L135.17 138.87 L135.38 139.57 L135.58 140.28 L135.79 140.98 L135.99 141.69 L136.20 142.39 L136.41 143.09 L136.61 143.80 L136.82 144.50 L137.02 145.20 L137.23 145.91 L137.44 146.61 L137.64 147.32 L137.85 148.02 L138.06 148.72 L138.27 149.43 L138.48 150.13 L138.69 150.83 L138.90 151.53 L139.11 152.24 L139.32 152.94 L139.53 153.64 L139.74 154.34 L139.95 155.05 L140.16 155.75 L140.38 156.45 L140.59 157.15 L140.81 157.86 L141.02 158.56 L141.24 159.26 L141.45 159.96 L141.67 160.66 L141.89 161.36 L142.10 162.06 L142.32 162.77 L142.54 163.47 L142.76 164.17 L142.98 164.87 L143.20 165.57 L143.42 166.27 L143.65 166.97 L143.87 167.67 L144.10 168.37 L144.32 169.07 L144.55 169.77 L144.77 170.47 L145.00 171.17 L145.23 171.87 L145.46 172.56 L145.69 173.26 L145.92 173.96 L146.15 174.66 L146.38 175.36 L146.62 176.06 L146.85 176.75 L147.09 177.45 L147.32 178.15 L147.56 178.84 L147.80 179.54 L148.04 180.24 L148.28 180.94 L148.52 181.63 L148.77 182.33 L149.01 183.02 L149.25 183.72 L149.50 184.41 L149.75 185.11 L150.00 185.80 L150.24 186.50 L150.50 187.19 L150.75 187.89 L151.00 188.58 L151.25 189.28 L151.51 189.97 L151.77 190.66 L152.02 191.36 L152.28 192.05 L152.54 192.74 L152.80 193.43 L153.07 194.13 L153.33 194.82 L153.60 195.51 L153.86 196.20 L154.13 196.89 L154.40 197.58 L154.67 198.27 L154.94 198.96 L155.22 199.65 L155.49 200.34 L155.77 201.03 L156.05 201.71 L156.33 202.40 L156.62 203.08 L156.90 203.77 L157.19 204.45 L157.48 205.13 L157.77 205.82 L158.06 206.50 L158.36 207.18 L158.65 207.86 L158.95 208.53 L159.26 209.21 L159.56 209.88 L159.87 210.56 L160.18 211.23 L160.49 211.90 L160.80 212.57 L161.12 213.24 L161.44 213.90 L161.76 214.57 L162.09 215.23 L162.42 215.89 L162.75 216.55 L163.08 217.21 L163.42 217.86 L163.76 218.52 L164.10 219.17 L164.45 219.82 L164.80 220.47 L165.15 221.11 L165.51 221.75 L165.87 222.40 L166.23 223.04 L166.59 223.67 L166.96 224.31 L167.34 224.94 L167.71 225.57 L168.09 226.19 L168.48 226.82 L168.87 227.44 L169.26 228.06 L169.65 228.68 L170.05 229.29 L170.46 229.90 L170.86 230.51 L171.27 231.11 L171.69 231.72 L172.11 232.31 L172.53 232.91 L172.96 233.50 L173.39 234.09 L173.83 234.68 L174.27 235.26 L174.72 235.84 L175.17 236.42 L175.62 236.99 L176.08 237.56 L176.54 238.13 L177.01 238.69 L177.48 239.25 L177.96 239.81 L178.45 240.36 L178.93 240.91 L179.43 241.45 L179.92 242.00 L180.43 242.53 L180.93 243.07 L181.45 243.59 L181.96 244.12 L182.49 244.64 L183.01 245.16 L183.55 245.67 L184.08 246.18 L184.62 246.69 L185.16 247.19 L185.71 247.69 L186.26 248.19 L186.82 248.68 L187.37 249.17 L187.93 249.66 L188.50 250.14 L189.06 250.62 L189.63 251.10 L190.20 251.57 L190.78 252.04 L191.35 252.51 L191.93 252.97 L192.51 253.43 L193.09 253.89 L193.67 254.35 L194.26 254.80 L194.84 255.25 L195.43 255.69 L196.02 256.13 L196.61 256.57 L197.21 257.00 L197.81 257.43 L198.41 257.86 L199.01 258.28 L199.62 258.69 L200.23 259.10 L200.84 259.50 L201.45 259.90 L202.07 260.29 L202.70 260.68 L203.32 261.06 L203.96 261.43 L204.59 261.80 L205.23 262.16 L205.87 262.51 L206.52 262.86 L207.17 263.19 L207.83 263.53 L208.48 263.85 L209.15 264.17 L209.81 264.49 L210.48 264.80 L211.15 265.10 L211.83 265.40 L212.51 265.69 L213.19 265.97 L213.87 266.25 L214.55 266.52 L215.24 266.79 L215.93 267.05 L216.63 267.31 L217.32 267.56 L218.02 267.81 L218.72 268.06 L219.42 268.29 L220.12 268.53 L220.83 268.75 L221.53 268.98 L222.24 269.20 L222.95 269.41 L223.65 269.62 L224.36 269.83 L225.08 270.03 L225.79 270.23 L226.50 270.43 L227.21 270.62 L227.93 270.80 L228.64 270.99 L229.36 271.16 L230.07 271.34 L230.79 271.51 L231.51 271.68 L232.22 271.84 L232.94 272.01 L233.66 272.16 L234.38 272.32 L235.10 272.47 L235.82 272.61 L236.55 272.76 L237.27 272.90 L237.99 273.04 L238.72 273.17 L239.44 273.30 L240.16 273.43 L240.89 273.55 L241.62 273.67 L242.34 273.79 L243.07 273.91 L243.80 274.02 L244.52 274.13 L245.25 274.24 L245.98 274.34 L246.71 274.44 L247.44 274.54 L248.17 274.63 L248.90 274.73 L249.63 274.82 L250.36 274.91 L251.09 274.99 L251.82 275.07 L252.56 275.15 L253.29 275.23 L254.02 275.31 L254.75 275.38 L255.49 275.45 L256.22 275.52 L256.96 275.58 L257.69 275.65 L258.42 275.71 L259.16 275.77 L259.89 275.83 L260.63 275.88 L261.37 275.94 L262.10 275.99 L262.84 276.04 L263.57 276.09 L264.31 276.13 L265.05 276.18 L265.78 276.22 L266.52 276.26 L267.26 276.30 L267.99 276.34 L268.73 276.38 L269.47 276.41 L270.21 276.45 L270.94 276.48 L271.68 276.51 L272.42 276.54 L273.16 276.57 L273.90 276.59 L274.63 276.62 L275.37 276.64 L276.11 276.67 L276.85 276.69 L277.58 276.71 L278.32 276.73 L279.06 276.75 L279.80 276.77 L280.54 276.78 L281.27 276.80 L282.01 276.81 L282.75 276.83 L283.49 276.84 L284.22 276.86 L284.96 276.87 L285.70 276.88 L286.43 276.89 L287.17 276.90 L287.91 276.91 L288.64 276.92 L289.38 276.93 L290.11 276.94 L290.85 276.95 L291.59 276.96 L292.32 276.97 L293.06 276.98 L293.79 276.99 L294.52 276.99 L295.26 277.00 L295.99 277.01"/>
<path class="dot" stroke-dashoffset="0.0" d="M304.00 277.01 L304.34 277.01 L304.68 277.01 L305.02 277.01 L305.37 277.01 L305.71 277.01 L306.05 277.01 L306.39 277.01 L306.73 277.01 L307.07 277.01 L307.41 277.01 L307.76 277.01 L308.10 277.01 L308.44 277.01 L308.78 277.01 L309.12 277.01 L309.46 277.01 L309.80 277.01 L310.15 277.01 L310.49 277.01 L310.83 277.01 L311.17 277.01 L311.51 277.01 L311.85 277.01 L312.19 277.01 L312.54 277.01 L312.88 277.01 L313.22 277.01 L313.56 277.01 L313.90 277.01 L314.24 277.01 L314.58 277.01 L314.92 277.01 L315.27 277.01 L315.61 277.01 L315.95 277.01 L316.29 277.01 L316.63 277.01 L316.97 277.01 L317.31 277.01 L317.66 277.01 L318.00 277.01 L318.34 277.01 L318.68 277.01 L319.02 277.01 L319.36 277.01 L319.70 277.01 L320.05 277.01 L320.39 277.01 L320.73 277.01 L321.07 277.01 L321.41 277.02 L321.75 277.02 L322.09 277.02 L322.44 277.02 L322.78 277.02 L323.12 277.02 L323.46 277.02 L323.80 277.02 L324.14 277.02 L324.48 277.02 L324.83 277.02 L325.17 277.02 L325.51 277.02 L325.85 277.02 L326.19 277.02 L326.53 277.02 L326.87 277.02 L327.22 277.02 L327.56 277.02 L327.90 277.02 L328.24 277.02 L328.58 277.02 L328.92 277.02 L329.26 277.02 L329.61 277.02 L329.95 277.02 L330.29 277.02 L330.63 277.02 L330.97 277.02 L331.31 277.02 L331.65 277.02 L331.99 277.02 L332.34 277.02 L332.68 277.02 L333.02 277.02 L333.36 277.02 L333.70 277.02 L334.04 277.02 L334.38 277.02 L334.73 277.02 L335.07 277.02 L335.41 277.02 L335.75 277.02 L336.09 277.02 L336.43 277.02 L336.77 277.02 L337.12 277.02 L337.46 277.02 L337.80 277.02 L338.14 277.02 L338.48 277.02 L338.82 277.02 L339.16 277.02 L339.51 277.02 L339.85 277.02 L340.19 277.02 L340.53 277.02 L340.87 277.02 L341.21 277.02 L341.55 277.02 L341.90 277.02 L342.24 277.02 L342.58 277.02 L342.92 277.02 L343.26 277.02 L343.60 277.02 L343.94 277.02 L344.29 277.02 L344.63 277.02 L344.97 277.02 L345.31 277.02 L345.65 277.02 L345.99 277.02 L346.33 277.02 L346.68 277.02 L347.02 277.02 L347.36 277.02 L347.70 277.02 L348.04 277.02 L348.38 277.03 L348.72 277.03 L349.07 277.03 L349.41 277.03 L349.75 277.03 L350.09 277.03 L350.43 277.03 L350.77 277.03 L351.11 277.03 L351.45 277.03 L351.80 277.03 L352.14 277.03 L352.48 277.03 L352.82 277.03 L353.16 277.03 L353.50 277.03 L353.84 277.03 L354.19 277.03 L354.53 277.03 L354.87 277.03 L355.21 277.03 L355.55 277.03 L355.89 277.03 L356.23 277.03 L356.58 277.03 L356.92 277.03 L357.26 277.03 L357.60 277.03 L357.94 277.03 L358.28 277.03 L358.62 277.03 L358.97 277.03 L359.31 277.03 L359.65 277.03 L359.99 277.03 L360.33 277.03 L360.67 277.03 L361.01 277.03 L361.36 277.03 L361.70 277.03 L362.04 277.03 L362.38 277.03 L362.72 277.03 L363.06 277.03 L363.40 277.03 L363.75 277.03 L364.09 277.03 L364.43 277.03 L364.77 277.03 L365.11 277.03 L365.45 277.03 L365.79 277.03 L366.14 277.03 L366.48 277.03 L366.82 277.03 L367.16 277.03 L367.50 277.03 L367.84 277.03 L368.18 277.03 L368.53 277.03 L368.87 277.03 L369.21 277.03 L369.55 277.03 L369.89 277.03 L370.23 277.03 L370.57 277.03 L370.91 277.03 L371.26 277.03 L371.60 277.03 L371.94 277.03 L372.28 277.03 L372.62 277.03 L372.96 277.03 L373.30 277.03 L373.65 277.03 L373.99 277.03 L374.33 277.03 L374.67 277.03 L375.01 277.03 L375.35 277.03 L375.69 277.03 L376.04 277.03 L376.38 277.03 L376.72 277.03 L377.06 277.03 L377.40 277.03 L377.74 277.03 L378.08 277.03 L378.43 277.03 L378.77 277.03 L379.11 277.03 L379.45 277.03 L379.79 277.03 L380.13 277.03 L380.47 277.03 L380.82 277.03 L381.16 277.03 L381.50 277.03 L381.84 277.03 L382.18 277.03 L382.52 277.03 L382.86 277.03 L383.21 277.03 L383.55 277.03 L383.89 277.03 L384.23 277.03 L384.57 277.03 L384.91 277.03 L385.25 277.03 L385.60 277.03 L385.94 277.03 L386.28 277.03 L386.62 277.03 L386.96 277.03 L387.30 277.03 L387.64 277.03 L387.98 277.03 L388.33 277.03 L388.67 277.03 L389.01 277.03 L389.35 277.03 L389.69 277.03 L390.03 277.03 L390.37 277.03 L390.72 277.03 L391.06 277.03 L391.40 277.03 L391.74 277.03 L392.08 277.03 L392.42 277.03 L392.76 277.03 L393.11 277.03 L393.45 277.03 L393.79 277.03 L394.13 277.03 L394.47 277.03 L394.81 277.03 L395.15 277.03 L395.50 277.03 L395.84 277.03 L396.18 277.03 L396.52 277.03 L396.86 277.03 L397.20 277.03 L397.54 277.03 L397.89 277.03 L398.23 277.03 L398.57 277.03 L398.91 277.03 L399.25 277.03 L399.59 277.03 L399.93 277.03 L400.28 277.03 L400.62 277.03 L400.96 277.03 L401.30 277.03 L401.64 277.03 L401.98 277.03 L402.32 277.03 L402.67 277.03 L403.01 277.03 L403.35 277.03 L403.69 277.03 L404.03 277.03 L404.37 277.03 L404.71 277.03 L405.06 277.03 L405.40 277.03 L405.74 277.03 L406.08 277.03 L406.42 277.03 L406.76 277.03 L407.10 277.03 L407.44 277.03 L407.79 277.03 L408.13 277.03 L408.47 277.03 L408.81 277.03 L409.15 277.03 L409.49 277.03 L409.83 277.03 L410.18 277.03 L410.52 277.03 L410.86 277.03 L411.20 277.03 L411.54 277.03 L411.88 277.03 L412.22 277.03 L412.57 277.03 L412.91 277.03 L413.25 277.03 L413.59 277.03 L413.93 277.03 L414.27 277.03 L414.61 277.03 L414.96 277.03 L415.30 277.03 L415.64 277.03 L415.98 277.03 L416.32 277.03 L416.66 277.03 L417.00 277.03 L417.35 277.03 L417.69 277.03 L418.03 277.03 L418.37 277.03 L418.71 277.03 L419.05 277.03 L419.39 277.03 L419.74 277.03 L420.08 277.03 L420.42 277.03 L420.76 277.03 L421.10 277.03 L421.44 277.03 L421.78 277.03 L422.13 277.03 L422.47 277.03 L422.81 277.03 L423.15 277.03 L423.49 277.03 L423.83 277.03 L424.17 277.03 L424.52 277.03 L424.86 277.03 L425.20 277.03 L425.54 277.03 L425.88 277.03 L426.22 277.03 L426.56 277.03 L426.90 277.03 L427.25 277.03 L427.59 277.03 L427.93 277.03 L428.27 277.03 L428.61 277.03 L428.95 277.03 L429.29 277.03 L429.64 277.03 L429.98 277.03 L430.32 277.03 L430.66 277.03 L431.00 277.03 L431.34 277.03 L431.68 277.03 L432.03 277.03 L432.37 277.03 L432.71 277.03 L433.05 277.03 L433.39 277.03 L433.73 277.03 L434.07 277.03 L434.42 277.03 L434.76 277.03 L435.10 277.03 L435.44 277.03 L435.78 277.03 L436.12 277.03 L436.46 277.03 L436.81 277.03 L437.15 277.03 L437.49 277.03 L437.83 277.03 L438.17 277.03 L438.51 277.03 L438.85 277.03 L439.20 277.03 L439.54 277.03 L439.88 277.03 L440.22 277.03 L440.56 277.03 L440.90 277.03 L441.24 277.03 L441.59 277.03 L441.93 277.03 L442.27 277.03 L442.61 277.03 L442.95 277.03 L443.29 277.03 L443.63 277.03 L443.97 277.03 L444.32 277.03 L444.66 277.03 L445.00 277.03 L445.34 277.03 L445.68 277.03 L446.02 277.03 L446.36 277.03 L446.71 277.03 L447.05 277.03 L447.39 277.03 L447.73 277.03 L448.07 277.03 L448.41 277.03 L448.75 277.03 L449.10 277.03 L449.44 277.03 L449.78 277.03 L450.12 277.03 L450.46 277.03 L450.80 277.03 L451.14 277.03 L451.49 277.03 L451.83 277.03 L452.17 277.03 L452.51 277.03 L452.85 277.03 L453.19 277.03 L453.53 277.03 L453.88 277.03 L454.22 277.03 L454.56 277.03 L454.90 277.03 L455.24 277.03 L455.58 277.03 L455.92 277.03 L456.27 277.03 L456.61 277.03 L456.95 277.03 L457.29 277.03 L457.63 277.03 L457.97 277.03 L458.31 277.03 L458.66 277.03 L459.00 277.03 L459.34 277.03 L459.68 277.03 L460.02 277.03 L460.36 277.03 L460.70 277.03 L461.05 277.03 L461.39 277.03 L461.73 277.03 L462.07 277.03 L462.41 277.03 L462.75 277.03 L463.09 277.03 L463.43 277.03 L463.78 277.03 L464.12 277.03 L464.46 277.02 L464.80 277.02 L465.14 277.02 L465.48 277.02 L465.82 277.02 L466.17 277.02 L466.51 277.02 L466.85 277.02 L467.19 277.02 L467.53 277.02 L467.87 277.02 L468.21 277.02 L468.56 277.02 L468.90 277.02 L469.24 277.02 L469.58 277.02 L469.92 277.02 L470.26 277.02 L470.60 277.02 L470.95 277.02 L471.29 277.02 L471.63 277.02 L471.97 277.02 L472.31 277.02 L472.65 277.02 L472.99 277.02 L473.34 277.02 L473.68 277.02 L474.02 277.02 L474.36 277.02 L474.70 277.02 L475.04 277.02 L475.38 277.02 L475.73 277.02 L476.07 277.02 L476.41 277.02 L476.75 277.02 L477.09 277.02 L477.43 277.02 L477.77 277.02 L478.12 277.02 L478.46 277.02 L478.80 277.02 L479.14 277.02 L479.48 277.02 L479.82 277.02 L480.16 277.02 L480.51 277.02 L480.85 277.02 L481.19 277.02 L481.53 277.02 L481.87 277.02 L482.21 277.02 L482.55 277.02 L482.89 277.02 L483.24 277.02 L483.58 277.02 L483.92 277.02 L484.26 277.02 L484.60 277.02 L484.94 277.02 L485.28 277.02 L485.63 277.02 L485.97 277.02 L486.31 277.02 L486.65 277.02 L486.99 277.02 L487.33 277.02 L487.67 277.02 L488.02 277.02 L488.36 277.02 L488.70 277.02 L489.04 277.01 L489.38 277.01 L489.72 277.01 L490.06 277.01 L490.41 277.01 L490.75 277.01 L491.09 277.01 L491.43 277.01 L491.77 277.01 L492.11 277.01 L492.45 277.01 L492.80 277.01 L493.14 277.01 L493.48 277.01 L493.82 277.01 L494.16 277.01 L494.50 277.01 L494.84 277.01 L495.19 277.01 L495.53 277.01 L495.87 277.01 L496.21 277.01 L496.55 277.01 L496.89 277.01 L497.23 277.01 L497.58 277.01 L497.92 277.01 L498.26 277.01 L498.60 277.01 L498.94 277.01 L499.28 277.01 L499.62 277.01 L499.96 277.01 L500.31 277.01 L500.65 277.01 L500.99 277.01 L501.33 277.01 L501.67 277.01 L502.01 277.01 L502.35 277.01 L502.70 277.01 L503.04 277.01 L503.38 277.01 L503.72 277.01 L504.06 277.01 L504.40 277.01 L504.74 277.01 L505.09 277.01 L505.43 277.01 L505.77 277.01 L506.11 277.01 L506.45 277.01 L506.79 277.01 L507.13 277.01 L507.48 277.00 L507.82 277.00 L508.16 277.00 L508.50 277.00"/>
<g filter="url(#sh)">
<path class="mk" d="M72.20 271.00 L77.80 282.40 L66.60 282.40Z"/>
<path class="mk" d="M94.61 267.50 L100.21 278.90 L89.01 278.90Z"/>
<path class="mk" d="M117.01 224.70 L122.61 236.10 L111.41 236.10Z"/>
<path class="mk" d="M139.42 208.90 L145.02 220.30 L133.82 220.30Z"/>
<path class="mk" d="M160.50 238.20 L166.10 249.60 L154.90 249.60Z"/>
<path class="mk" d="M184.23 256.70 L189.83 268.10 L178.63 268.10Z"/>
<path class="mk" d="M206.63 265.30 L212.23 276.70 L201.03 276.70Z"/>
<path class="mk" d="M229.04 268.70 L234.64 280.10 L223.44 280.10Z"/>
<path class="mk" d="M251.44 270.10 L257.04 281.50 L245.84 281.50Z"/>
<path class="mk" d="M273.85 270.70 L279.45 282.10 L268.25 282.10Z"/>
<path class="mk" d="M296.25 271.00 L301.85 282.40 L290.65 282.40Z"/>
<path class="mk" d="M318.66 271.00 L324.26 282.40 L313.06 282.40Z"/>
<path class="mk" d="M341.06 271.00 L346.66 282.40 L335.46 282.40Z"/>
<path class="mk" d="M363.47 271.00 L369.07 282.40 L357.87 282.40Z"/>
<path class="mk" d="M385.87 271.00 L391.47 282.40 L380.27 282.40Z"/>
<path class="mk" d="M408.28 271.00 L413.88 282.40 L402.68 282.40Z"/>
<path class="mk" d="M453.09 271.00 L458.69 282.40 L447.49 282.40Z"/>
<path class="mk" d="M475.49 271.00 L481.09 282.40 L469.89 282.40Z"/>
<path class="mk" d="M497.90 271.00 L503.50 282.40 L492.30 282.40Z"/>
<path class="mk" d="M72.20 271.80 L77.40 277.00 L72.20 282.20 L67.00 277.00Z"/>
<path class="mk" d="M94.61 217.30 L99.81 222.50 L94.61 227.70 L89.41 222.50Z"/>
<path class="mk" d="M117.01 139.00 L122.21 144.20 L117.01 149.40 L111.81 144.20Z"/>
<path class="mk" d="M139.42 179.80 L144.62 185.00 L139.42 190.20 L134.22 185.00Z"/>
<path class="mk" d="M161.82 227.00 L167.02 232.20 L161.82 237.40 L156.62 232.20Z"/>
<path class="mk" d="M184.23 251.40 L189.43 256.60 L184.23 261.80 L179.03 256.60Z"/>
<path class="mk" d="M206.63 263.00 L211.83 268.20 L206.63 273.40 L201.43 268.20Z"/>
<path class="mk" d="M229.04 268.50 L234.24 273.70 L229.04 278.90 L223.84 273.70Z"/>
<path class="mk" d="M251.44 270.60 L256.64 275.80 L251.44 281.00 L246.24 275.80Z"/>
<path class="mk" d="M273.85 271.60 L279.05 276.80 L273.85 282.00 L268.65 276.80Z"/>
<rect class="mk" x="67.00" y="272.00" width="10.40" height="10.40"/><rect x="69.20" y="274.30" width="6.00" height="1.1" fill="#3c3c3c"/>
<rect class="mk" x="89.41" y="205.10" width="10.40" height="10.40"/><rect x="91.61" y="207.40" width="6.00" height="1.1" fill="#3c3c3c"/>
<rect class="mk" x="111.81" y="110.60" width="10.40" height="10.40"/><rect x="114.01" y="112.90" width="6.00" height="1.1" fill="#3c3c3c"/>
<rect class="mk" x="134.22" y="179.10" width="10.40" height="10.40"/><rect x="136.42" y="181.40" width="6.00" height="1.1" fill="#3c3c3c"/>
<rect class="mk" x="156.62" y="226.05" width="10.40" height="10.40"/><rect x="158.82" y="228.35" width="6.00" height="1.1" fill="#3c3c3c"/>
<rect class="mk" x="179.03" y="250.55" width="10.40" height="10.40"/><rect x="181.23" y="252.85" width="6.00" height="1.1" fill="#3c3c3c"/>
<rect class="mk" x="201.43" y="262.30" width="10.40" height="10.40"/><rect x="203.63" y="264.60" width="6.00" height="1.1" fill="#3c3c3c"/>
<rect class="mk" x="223.84" y="268.05" width="10.40" height="10.40"/><rect x="226.04" y="270.35" width="6.00" height="1.1" fill="#3c3c3c"/>
<rect class="mk" x="246.24" y="270.30" width="10.40" height="10.40"/><rect x="248.44" y="272.60" width="6.00" height="1.1" fill="#3c3c3c"/>
<rect class="mk" x="268.65" y="271.40" width="10.40" height="10.40"/><rect x="270.85" y="273.70" width="6.00" height="1.1" fill="#3c3c3c"/>
</g>
<text class="pl" text-anchor="start" transform="translate(1.20 19.90) scale(1.020 1)">A</text>
<text style="font-size:19.4px" class="ttl" text-anchor="middle" transform="translate(16.90 150.40) rotate(-90) scale(1.026 1)">[Thrombin] (nM)</text>
<text class="ttl" text-anchor="middle" transform="translate(276.00 319.90) scale(1.033 1)">Time (minutes)</text>
<path class="ax" d="M61.00 640.50 V364.30 H509.10 V640.50"/>
<path class="ax" d="M56.30 636.60 H509.10"/>
<path class="ax" d="M56.30 364.30 H61.00"/>
<text class="tk" text-anchor="end" transform="translate(45.00 369.30) scale(0.950 1)">100</text>
<path class="ax" d="M56.30 432.38 H61.00"/>
<text class="tk" text-anchor="end" transform="translate(46.40 437.38) scale(0.985 1)">75</text>
<path class="ax" d="M56.30 500.45 H61.00"/>
<text class="tk" text-anchor="end" transform="translate(46.40 505.45) scale(0.985 1)">50</text>
<path class="ax" d="M56.30 568.52 H61.00"/>
<text class="tk" text-anchor="end" transform="translate(46.40 573.52) scale(0.985 1)">25</text>
<path class="ax" d="M56.30 636.60 H61.00"/>
<text class="tk" text-anchor="end" transform="translate(46.40 641.60) scale(0.985 1)">0</text>
<path class="ax" d="M61.00 636.60 V640.50"/>
<text class="tk" text-anchor="middle" transform="translate(60.80 662.90) scale(0.997 1)">0</text>
<path class="ax" d="M173.03 636.60 V640.50"/>
<text class="tk" text-anchor="middle" transform="translate(172.83 662.90) scale(0.997 1)">10</text>
<path class="ax" d="M285.05 636.60 V640.50"/>
<text class="tk" text-anchor="middle" transform="translate(284.85 662.90) scale(0.997 1)">20</text>
<path class="ax" d="M397.08 636.60 V640.50"/>
<text class="tk" text-anchor="middle" transform="translate(396.88 662.90) scale(0.997 1)">30</text>
<path class="ax" d="M509.10 636.60 V640.50"/>
<text class="tk" text-anchor="middle" transform="translate(508.90 662.90) scale(0.997 1)">40</text>
<g filter="url(#sh)">
<path class="ln" d="M72.20 636.80 L73.07 636.90 L73.95 636.99 L74.82 637.08 L75.70 637.15 L76.58 637.21 L77.46 637.26 L78.35 637.30 L79.23 637.33 L80.12 637.35 L81.00 637.36 L81.89 637.36 L82.78 637.35 L83.66 637.32 L84.55 637.29 L85.44 637.24 L86.32 637.18 L87.21 637.11 L88.09 637.03 L88.97 636.93 L89.85 636.82 L90.73 636.71 L91.60 636.57 L92.48 636.43 L93.35 636.27 L94.22 636.10 L95.08 635.92 L95.94 635.73 L96.80 635.52 L97.65 635.30 L98.50 635.06 L99.35 634.81 L100.19 634.55 L101.02 634.28 L101.86 633.99 L102.68 633.69 L103.50 633.37 L104.31 633.04 L105.12 632.69 L105.92 632.33 L106.72 631.96 L107.51 631.58 L108.30 631.19 L109.09 630.79 L109.88 630.39 L110.66 629.99 L111.44 629.59 L112.23 629.19 L113.01 628.79 L113.80 628.40 L114.60 628.01 L115.39 627.63 L116.19 627.27 L117.00 626.92 L117.82 626.58 L118.64 626.26 L119.46 625.95 L120.30 625.66 L121.13 625.38 L121.98 625.11 L122.82 624.86 L123.67 624.62 L124.53 624.40 L125.38 624.18 L126.24 623.98 L127.10 623.79 L127.97 623.61 L128.83 623.45 L129.70 623.29 L130.57 623.15 L131.43 623.02 L132.30 622.90 L133.18 622.78 L134.05 622.68 L134.92 622.59 L135.80 622.51 L136.67 622.44 L137.55 622.38 L138.42 622.33 L139.30 622.28 L140.18 622.25 L141.06 622.23 L141.94 622.21 L142.82 622.20 L143.70 622.20 L144.58 622.21 L145.46 622.22 L146.34 622.25 L147.22 622.28 L148.10 622.32 L148.98 622.36 L149.86 622.41 L150.74 622.47 L151.62 622.54 L152.50 622.61 L153.38 622.68 L154.26 622.77 L155.14 622.86 L156.01 622.95 L156.89 623.05 L157.77 623.15 L158.65 623.26 L159.52 623.38 L160.39 623.49 L161.27 623.62 L162.14 623.74 L163.01 623.87 L163.88 624.01 L164.75 624.14 L165.62 624.29 L166.49 624.43 L167.36 624.58 L168.23 624.72 L169.09 624.88 L169.96 625.03 L170.83 625.19 L171.69 625.34 L172.56 625.50 L173.42 625.66 L174.28 625.82 L175.15 625.99 L176.01 626.15 L176.88 626.32 L177.74 626.48 L178.60 626.64 L179.47 626.81 L180.33 626.97 L181.19 627.14 L182.06 627.30 L182.92 627.46 L183.78 627.62 L184.65 627.78 L185.51 627.94 L186.38 628.10 L187.24 628.25 L188.11 628.41 L188.97 628.56 L189.84 628.70 L190.71 628.85 L191.57 628.99 L192.44 629.13 L193.31 629.27 L194.18 629.40 L195.05 629.53 L195.92 629.65 L196.79 629.77 L197.66 629.89 L198.54 630.00 L199.41 630.11 L200.29 630.22 L201.16 630.32 L202.04 630.42 L202.91 630.52 L203.79 630.61 L204.67 630.70 L205.54 630.79 L206.42 630.88 L207.30 630.96 L208.18 631.04 L209.05 631.12 L209.93 631.20 L210.81 631.27 L211.69 631.34 L212.57 631.41 L213.45 631.48 L214.33 631.55 L215.21 631.62 L216.09 631.68 L216.97 631.74 L217.85 631.81 L218.73 631.87 L219.61 631.93 L220.48 631.98 L221.36 632.04 L222.24 632.10 L223.12 632.15 L224.00 632.21 L224.88 632.26 L225.76 632.31 L226.64 632.37 L227.51 632.42 L228.39 632.47 L229.27 632.52 L230.15 632.57 L231.03 632.61 L231.91 632.66 L232.79 632.71 L233.67 632.75 L234.54 632.80 L235.42 632.84 L236.30 632.89 L237.18 632.93 L238.06 632.97 L238.94 633.01 L239.82 633.05 L240.70 633.09 L241.58 633.13 L242.46 633.17 L243.33 633.21 L244.21 633.25 L245.09 633.29 L245.97 633.32 L246.85 633.36 L247.73 633.39 L248.61 633.43 L249.49 633.46 L250.37 633.49 L251.25 633.53 L252.13 633.56 L253.01 633.59 L253.89 633.62 L254.77 633.65 L255.65 633.68 L256.52 633.71 L257.40 633.73 L258.28 633.76 L259.16 633.79 L260.04 633.81 L260.92 633.84 L261.80 633.87 L262.68 633.89 L263.56 633.91 L264.44 633.94 L265.32 633.96 L266.20 633.98 L267.08 634.01 L267.96 634.03 L268.84 634.05 L269.72 634.07 L270.60 634.09 L271.48 634.11 L272.36 634.13 L273.24 634.15 L274.12 634.16 L275.00 634.18 L275.88 634.20 L276.76 634.21 L277.64 634.23 L278.52 634.25 L279.40 634.26 L280.28 634.28 L281.16 634.29 L282.04 634.30 L282.92 634.32 L283.80 634.33 L284.68 634.34 L285.56 634.35 L286.44 634.37 L287.32 634.38 L288.20 634.39 L289.08 634.40 L289.96 634.41 L290.84 634.42 L291.72 634.43 L292.60 634.44 L293.48 634.44 L294.36 634.45 L295.24 634.46 L296.12 634.47 L297.00 634.47 L297.88 634.48 L298.76 634.49 L299.64 634.49 L300.52 634.50 L301.40 634.50 L302.28 634.51 L303.16 634.51 L304.04 634.52 L304.92 634.52 L305.80 634.53 L306.68 634.53 L307.57 634.53 L308.45 634.54 L309.33 634.54 L310.21 634.54 L311.09 634.54 L311.97 634.54 L312.85 634.55 L313.73 634.55 L314.61 634.55 L315.49 634.55 L316.37 634.55 L317.25 634.55 L318.13 634.55 L319.01 634.55 L319.89 634.55 L320.77 634.55 L321.65 634.55 L322.53 634.55 L323.41 634.55 L324.29 634.55 L325.17 634.54 L326.06 634.54 L326.94 634.54 L327.82 634.54 L328.70 634.54 L329.58 634.53 L330.46 634.53 L331.34 634.53 L332.22 634.53 L333.10 634.52 L333.98 634.52 L334.86 634.52 L335.74 634.51 L336.62 634.51 L337.50 634.51 L338.38 634.50 L339.26 634.50 L340.14 634.50 L341.03 634.49 L341.91 634.49 L342.79 634.48 L343.67 634.48 L344.55 634.48 L345.43 634.47 L346.31 634.47 L347.19 634.46 L348.07 634.46 L348.95 634.45 L349.83 634.45 L350.71 634.44 L351.59 634.44 L352.47 634.43 L353.35 634.43 L354.23 634.43 L355.12 634.42 L356.00 634.42 L356.88 634.41 L357.76 634.41 L358.64 634.40 L359.52 634.40 L360.40 634.39 L361.28 634.39 L362.16 634.38 L363.04 634.38 L363.92 634.38 L364.80 634.37 L365.68 634.37 L366.56 634.36 L367.44 634.36 L368.32 634.35 L369.20 634.35 L370.09 634.35 L370.97 634.34 L371.85 634.34 L372.73 634.33 L373.61 634.33 L374.49 634.33 L375.37 634.32 L376.25 634.32 L377.13 634.32 L378.01 634.31 L378.89 634.31 L379.77 634.31 L380.65 634.31 L381.53 634.30 L382.41 634.30 L383.29 634.30 L384.17 634.30 L385.05 634.30 L385.93 634.29 L386.81 634.29 L387.69 634.29 L388.58 634.29 L389.46 634.29 L390.34 634.29 L391.22 634.29 L392.10 634.29 L392.98 634.29 L393.86 634.29 L394.74 634.29 L395.62 634.29 L396.50 634.29 L397.38 634.29 L398.26 634.29 L399.14 634.29 L400.02 634.29 L400.90 634.29 L401.78 634.29 L402.66 634.29 L403.54 634.29 L404.42 634.30 L405.30 634.30 L406.18 634.30 L407.06 634.30 L407.94 634.30 L408.82 634.30 L409.70 634.31 L410.58 634.31 L411.46 634.31 L412.34 634.31 L413.22 634.31 L414.10 634.32 L414.98 634.32 L415.86 634.32 L416.74 634.32 L417.63 634.33 L418.51 634.33 L419.39 634.33 L420.27 634.34 L421.15 634.34 L422.03 634.34 L422.91 634.34 L423.79 634.35 L424.67 634.35 L425.55 634.35 L426.43 634.36 L427.31 634.36 L428.19 634.36 L429.07 634.37 L429.95 634.37 L430.83 634.37 L431.71 634.37 L432.59 634.38 L433.47 634.38 L434.35 634.38 L435.23 634.39 L436.11 634.39 L436.99 634.39 L437.87 634.40 L438.75 634.40 L439.63 634.40 L440.51 634.41 L441.39 634.41 L442.27 634.41 L443.15 634.42 L444.03 634.42 L444.91 634.42 L445.79 634.42 L446.67 634.43 L447.55 634.43 L448.43 634.43 L449.31 634.44 L450.19 634.44 L451.07 634.44 L451.95 634.44 L452.83 634.45 L453.71 634.45 L454.59 634.45 L455.47 634.45 L456.35 634.46 L457.23 634.46 L458.11 634.46 L459.00 634.46 L459.88 634.46 L460.76 634.47 L461.64 634.47 L462.52 634.47 L463.40 634.47 L464.28 634.47 L465.16 634.47 L466.04 634.48 L466.92 634.48 L467.80 634.48 L468.68 634.48 L469.56 634.48 L470.44 634.48 L471.32 634.48 L472.20 634.48 L473.08 634.48 L473.96 634.48 L474.84 634.48 L475.72 634.48 L476.60 634.48 L477.48 634.48 L478.36 634.48 L479.24 634.48 L480.12 634.48 L481.00 634.48 L481.88 634.48 L482.76 634.47 L483.65 634.47 L484.53 634.47 L485.41 634.47 L486.29 634.47 L487.17 634.46 L488.05 634.46 L488.93 634.46 L489.81 634.46 L490.69 634.45 L491.57 634.45 L492.45 634.45 L493.33 634.44 L494.21 634.44 L495.09 634.44 L495.97 634.43 L496.85 634.43 L497.73 634.42 L498.61 634.42 L499.50 634.41 L500.38 634.41 L501.26 634.40 L502.14 634.39 L503.02 634.39 L503.90 634.38 L504.78 634.38 L505.66 634.37 L506.54 634.36 L507.42 634.35 L508.30 634.35"/>
<path class="ln" d="M72.18 636.80 L73.13 636.94 L74.08 637.07 L75.02 637.18 L75.96 637.27 L76.89 637.35 L77.83 637.40 L78.75 637.45 L79.68 637.47 L80.60 637.48 L81.52 637.48 L82.43 637.45 L83.34 637.42 L84.25 637.36 L85.15 637.30 L86.05 637.21 L86.95 637.11 L87.84 637.00 L88.73 636.87 L89.61 636.73 L90.49 636.58 L91.37 636.41 L92.25 636.22 L93.12 636.03 L93.98 635.82 L94.85 635.59 L95.70 635.36 L96.56 635.11 L97.41 634.85 L98.26 634.57 L99.10 634.29 L99.94 633.99 L100.77 633.68 L101.60 633.36 L102.43 633.02 L103.25 632.68 L104.07 632.32 L104.89 631.95 L105.70 631.58 L106.51 631.19 L107.31 630.79 L108.11 630.38 L108.90 629.96 L109.69 629.53 L110.48 629.09 L111.26 628.64 L112.04 628.19 L112.81 627.72 L113.58 627.24 L114.35 626.76 L115.11 626.27 L115.86 625.77 L116.61 625.26 L117.36 624.74 L118.10 624.21 L118.84 623.68 L119.58 623.14 L120.31 622.59 L121.03 622.04 L121.75 621.48 L122.47 620.91 L123.18 620.34 L123.89 619.75 L124.59 619.17 L125.29 618.57 L125.98 617.98 L126.67 617.37 L127.35 616.76 L128.03 616.15 L128.71 615.53 L129.38 614.91 L130.05 614.28 L130.72 613.66 L131.40 613.04 L132.07 612.43 L132.75 611.82 L133.43 611.22 L134.13 610.63 L134.82 610.05 L135.53 609.49 L136.25 608.94 L136.97 608.40 L137.71 607.89 L138.47 607.39 L139.24 606.91 L140.03 606.46 L140.83 606.04 L141.64 605.64 L142.47 605.27 L143.31 604.94 L144.16 604.65 L145.02 604.40 L145.88 604.19 L146.75 604.02 L147.62 603.91 L148.49 603.85 L149.36 603.84 L150.24 603.89 L151.11 603.98 L151.98 604.12 L152.85 604.30 L153.72 604.51 L154.59 604.76 L155.46 605.03 L156.33 605.33 L157.19 605.65 L158.05 605.98 L158.91 606.33 L159.77 606.68 L160.62 607.03 L161.47 607.39 L162.32 607.74 L163.17 608.10 L164.02 608.45 L164.86 608.80 L165.70 609.16 L166.54 609.51 L167.37 609.86 L168.21 610.22 L169.04 610.57 L169.87 610.92 L170.70 611.27 L171.53 611.63 L172.35 611.98 L173.18 612.34 L174.01 612.69 L174.83 613.05 L175.65 613.40 L176.48 613.76 L177.30 614.12 L178.12 614.47 L178.94 614.83 L179.76 615.19 L180.58 615.55 L181.41 615.92 L182.23 616.28 L183.05 616.65 L183.87 617.01 L184.69 617.38 L185.52 617.75 L186.34 618.12 L187.17 618.49 L187.99 618.86 L188.82 619.23 L189.65 619.60 L190.47 619.97 L191.30 620.34 L192.13 620.71 L192.97 621.07 L193.80 621.43 L194.63 621.79 L195.47 622.15 L196.31 622.50 L197.14 622.85 L197.98 623.19 L198.82 623.53 L199.67 623.87 L200.51 624.20 L201.36 624.52 L202.21 624.84 L203.06 625.15 L203.91 625.45 L204.76 625.75 L205.62 626.04 L206.47 626.32 L207.33 626.59 L208.20 626.86 L209.06 627.12 L209.93 627.36 L210.79 627.61 L211.66 627.84 L212.53 628.06 L213.41 628.28 L214.28 628.50 L215.16 628.70 L216.04 628.90 L216.92 629.09 L217.80 629.27 L218.68 629.45 L219.57 629.63 L220.45 629.79 L221.34 629.95 L222.22 630.11 L223.11 630.26 L224.00 630.40 L224.89 630.54 L225.79 630.68 L226.68 630.81 L227.57 630.93 L228.47 631.05 L229.36 631.17 L230.26 631.28 L231.16 631.39 L232.05 631.50 L232.95 631.60 L233.85 631.70 L234.75 631.79 L235.65 631.89 L236.55 631.97 L237.45 632.06 L238.35 632.15 L239.25 632.23 L240.15 632.31 L241.05 632.38 L241.95 632.46 L242.85 632.53 L243.75 632.60 L244.65 632.67 L245.56 632.74 L246.46 632.81 L247.36 632.87 L248.26 632.93 L249.16 632.99 L250.06 633.05 L250.96 633.11 L251.86 633.16 L252.77 633.21 L253.67 633.26 L254.57 633.31 L255.47 633.36 L256.37 633.41 L257.27 633.45 L258.18 633.50 L259.08 633.54 L259.98 633.58 L260.88 633.62 L261.78 633.65 L262.69 633.69 L263.59 633.72 L264.49 633.76 L265.39 633.79 L266.29 633.82 L267.20 633.85 L268.10 633.87 L269.00 633.90 L269.90 633.93 L270.81 633.95 L271.71 633.97 L272.61 633.99 L273.51 634.01 L274.42 634.03 L275.32 634.05 L276.22 634.07 L277.13 634.08 L278.03 634.10 L278.93 634.11 L279.83 634.13 L280.74 634.14 L281.64 634.15 L282.54 634.16 L283.45 634.17 L284.35 634.18 L285.25 634.19 L286.15 634.20 L287.06 634.20 L287.96 634.21 L288.86 634.21 L289.77 634.22 L290.67 634.22 L291.57 634.23 L292.48 634.23 L293.38 634.23 L294.28 634.23 L295.19 634.23 L296.09 634.23 L296.99 634.23 L297.90 634.23 L298.80 634.23 L299.70 634.23 L300.60 634.23 L301.51 634.23 L302.41 634.23 L303.31 634.22 L304.22 634.22 L305.12 634.22 L306.02 634.22 L306.93 634.21 L307.83 634.21 L308.73 634.21 L309.64 634.20 L310.54 634.20 L311.44 634.20 L312.35 634.19 L313.25 634.19 L314.15 634.18 L315.06 634.18 L315.96 634.18 L316.86 634.17 L317.77 634.17 L318.67 634.17 L319.57 634.16 L320.48 634.16 L321.38 634.16 L322.28 634.16 L323.19 634.15 L324.09 634.15 L324.99 634.15 L325.90 634.15 L326.80 634.15 L327.70 634.15 L328.61 634.15 L329.51 634.14 L330.41 634.14 L331.31 634.14 L332.22 634.14 L333.12 634.14 L334.02 634.14 L334.93 634.14 L335.83 634.14 L336.73 634.14 L337.64 634.14 L338.54 634.14 L339.44 634.14 L340.34 634.14 L341.25 634.14 L342.15 634.14 L343.05 634.14 L343.96 634.15 L344.86 634.15 L345.76 634.15 L346.67 634.15 L347.57 634.15 L348.47 634.15 L349.37 634.15 L350.28 634.15 L351.18 634.15 L352.08 634.16 L352.99 634.16 L353.89 634.16 L354.79 634.16 L355.69 634.16 L356.60 634.16 L357.50 634.17 L358.40 634.17 L359.31 634.17 L360.21 634.17 L361.11 634.17 L362.01 634.18 L362.92 634.18 L363.82 634.18 L364.72 634.18 L365.63 634.18 L366.53 634.19 L367.43 634.19 L368.33 634.19 L369.24 634.19 L370.14 634.19 L371.04 634.20 L371.95 634.20 L372.85 634.20 L373.75 634.20 L374.65 634.20 L375.56 634.21 L376.46 634.21 L377.36 634.21 L378.27 634.21 L379.17 634.21 L380.07 634.21 L380.97 634.22 L381.88 634.22 L382.78 634.22 L383.68 634.22 L384.59 634.22 L385.49 634.22 L386.39 634.22 L387.30 634.22 L388.20 634.23 L389.10 634.23 L390.00 634.23 L390.91 634.23 L391.81 634.23 L392.71 634.23 L393.62 634.23 L394.52 634.23 L395.42 634.23 L396.33 634.23 L397.23 634.23 L398.13 634.23 L399.03 634.23 L399.94 634.23 L400.84 634.23 L401.74 634.23 L402.65 634.23 L403.55 634.23 L404.45 634.23 L405.36 634.23 L406.26 634.23 L407.16 634.23 L408.06 634.23 L408.97 634.23 L409.87 634.23 L410.77 634.23 L411.68 634.23 L412.58 634.23 L413.48 634.23 L414.39 634.23 L415.29 634.23 L416.19 634.23 L417.09 634.23 L418.00 634.23 L418.90 634.23 L419.80 634.23 L420.71 634.22 L421.61 634.22 L422.51 634.22 L423.42 634.22 L424.32 634.22 L425.22 634.22 L426.12 634.22 L427.03 634.22 L427.93 634.22 L428.83 634.22 L429.74 634.22 L430.64 634.22 L431.54 634.21 L432.45 634.21 L433.35 634.21 L434.25 634.21 L435.16 634.21 L436.06 634.21 L436.96 634.21 L437.86 634.21 L438.77 634.21 L439.67 634.21 L440.57 634.20 L441.48 634.20 L442.38 634.20 L443.28 634.20 L444.19 634.20 L445.09 634.20 L445.99 634.20 L446.90 634.20 L447.80 634.20 L448.70 634.20 L449.60 634.19 L450.51 634.19 L451.41 634.19 L452.31 634.19 L453.22 634.19 L454.12 634.19 L455.02 634.19 L455.93 634.19 L456.83 634.19 L457.73 634.19 L458.64 634.19 L459.54 634.19 L460.44 634.18 L461.34 634.18 L462.25 634.18 L463.15 634.18 L464.05 634.18 L464.96 634.18 L465.86 634.18 L466.76 634.18 L467.67 634.18 L468.57 634.18 L469.47 634.18 L470.38 634.18 L471.28 634.18 L472.18 634.18 L473.08 634.18 L473.99 634.18 L474.89 634.18 L475.79 634.18 L476.70 634.18 L477.60 634.18 L478.50 634.18 L479.41 634.18 L480.31 634.18 L481.21 634.18 L482.11 634.18 L483.02 634.18 L483.92 634.18 L484.82 634.18 L485.73 634.18 L486.63 634.18 L487.53 634.18 L488.44 634.18 L489.34 634.18 L490.24 634.18 L491.14 634.18 L492.05 634.19 L492.95 634.19 L493.85 634.19 L494.76 634.19 L495.66 634.19 L496.56 634.19 L497.46 634.19 L498.37 634.19 L499.27 634.20 L500.17 634.20 L501.08 634.20 L501.98 634.20 L502.88 634.20 L503.78 634.20 L504.69 634.21 L505.59 634.21 L506.49 634.21 L507.40 634.21 L508.30 634.21"/>
<path class="ln" d="M72.20 636.80 L73.26 636.74 L74.33 636.70 L75.40 636.67 L76.47 636.64 L77.55 636.62 L78.63 636.59 L79.71 636.57 L80.79 636.53 L81.87 636.48 L82.95 636.42 L84.02 636.34 L85.10 636.24 L86.17 636.12 L87.24 635.97 L88.30 635.79 L89.35 635.59 L90.40 635.35 L91.43 635.07 L92.46 634.76 L93.48 634.41 L94.49 634.02 L95.48 633.58 L96.47 633.10 L97.43 632.58 L98.38 632.03 L99.31 631.44 L100.21 630.81 L101.09 630.16 L101.95 629.48 L102.78 628.77 L103.58 628.04 L104.35 627.29 L105.09 626.52 L105.80 625.73 L106.49 624.92 L107.15 624.09 L107.79 623.25 L108.40 622.38 L108.99 621.51 L109.56 620.61 L110.11 619.71 L110.64 618.79 L111.15 617.85 L111.64 616.91 L112.12 615.95 L112.59 614.99 L113.04 614.01 L113.47 613.03 L113.90 612.04 L114.31 611.04 L114.72 610.04 L115.11 609.03 L115.50 608.02 L115.89 607.00 L116.26 605.98 L116.63 604.96 L117.00 603.94 L117.37 602.91 L117.74 601.89 L118.10 600.87 L118.46 599.84 L118.82 598.82 L119.17 597.79 L119.53 596.77 L119.88 595.75 L120.24 594.72 L120.59 593.70 L120.94 592.67 L121.29 591.65 L121.64 590.63 L121.99 589.61 L122.33 588.59 L122.68 587.56 L123.03 586.54 L123.38 585.52 L123.73 584.51 L124.07 583.49 L124.42 582.47 L124.77 581.46 L125.12 580.44 L125.47 579.43 L125.82 578.42 L126.17 577.40 L126.53 576.39 L126.88 575.39 L127.24 574.38 L127.59 573.37 L127.95 572.37 L128.31 571.37 L128.67 570.37 L129.04 569.37 L129.41 568.38 L129.78 567.38 L130.15 566.39 L130.52 565.39 L130.89 564.40 L131.27 563.41 L131.65 562.42 L132.03 561.42 L132.41 560.43 L132.80 559.44 L133.19 558.44 L133.58 557.45 L133.97 556.45 L134.36 555.45 L134.76 554.45 L135.16 553.45 L135.56 552.44 L135.96 551.44 L136.36 550.43 L136.77 549.41 L137.18 548.39 L137.59 547.37 L138.00 546.35 L138.41 545.32 L138.83 544.28 L139.25 543.25 L139.67 542.20 L140.10 541.16 L140.54 540.13 L141.00 539.11 L141.48 538.11 L141.99 537.14 L142.54 536.21 L143.13 535.32 L143.77 534.48 L144.46 533.70 L145.21 532.97 L146.02 532.32 L146.89 531.74 L147.80 531.25 L148.76 530.84 L149.75 530.53 L150.76 530.31 L151.79 530.21 L152.83 530.21 L153.88 530.32 L154.92 530.54 L155.95 530.84 L156.97 531.23 L157.98 531.70 L158.97 532.23 L159.93 532.81 L160.87 533.44 L161.77 534.12 L162.64 534.82 L163.47 535.55 L164.27 536.30 L165.05 537.07 L165.79 537.86 L166.52 538.67 L167.22 539.50 L167.91 540.33 L168.58 541.18 L169.25 542.03 L169.91 542.88 L170.56 543.74 L171.22 544.60 L171.87 545.45 L172.53 546.30 L173.20 547.14 L173.88 547.97 L174.56 548.80 L175.25 549.62 L175.95 550.44 L176.64 551.25 L177.35 552.06 L178.05 552.87 L178.75 553.68 L179.46 554.48 L180.17 555.29 L180.87 556.09 L181.58 556.90 L182.28 557.71 L182.97 558.53 L183.67 559.34 L184.35 560.17 L185.04 561.00 L185.71 561.83 L186.39 562.67 L187.05 563.51 L187.72 564.35 L188.38 565.20 L189.04 566.05 L189.70 566.90 L190.36 567.76 L191.01 568.61 L191.67 569.46 L192.33 570.32 L192.99 571.17 L193.65 572.02 L194.31 572.87 L194.98 573.71 L195.65 574.56 L196.33 575.40 L197.01 576.23 L197.69 577.06 L198.38 577.89 L199.08 578.71 L199.78 579.53 L200.48 580.34 L201.20 581.14 L201.92 581.94 L202.64 582.73 L203.38 583.52 L204.12 584.29 L204.87 585.06 L205.63 585.83 L206.39 586.58 L207.17 587.32 L207.95 588.06 L208.74 588.79 L209.54 589.51 L210.35 590.22 L211.16 590.92 L211.99 591.61 L212.81 592.30 L213.65 592.98 L214.49 593.65 L215.33 594.32 L216.19 594.98 L217.04 595.63 L217.90 596.27 L218.77 596.91 L219.64 597.54 L220.51 598.17 L221.39 598.79 L222.28 599.40 L223.16 600.01 L224.06 600.61 L224.95 601.20 L225.85 601.79 L226.76 602.37 L227.66 602.95 L228.58 603.51 L229.49 604.08 L230.41 604.63 L231.34 605.18 L232.27 605.72 L233.20 606.26 L234.13 606.79 L235.07 607.32 L236.01 607.83 L236.96 608.35 L237.91 608.85 L238.86 609.35 L239.82 609.84 L240.78 610.33 L241.74 610.81 L242.71 611.28 L243.68 611.75 L244.66 612.21 L245.63 612.66 L246.62 613.10 L247.60 613.53 L248.59 613.95 L249.58 614.36 L250.58 614.76 L251.58 615.15 L252.59 615.53 L253.60 615.90 L254.61 616.25 L255.63 616.60 L256.65 616.94 L257.67 617.26 L258.70 617.58 L259.73 617.88 L260.76 618.18 L261.80 618.47 L262.84 618.75 L263.88 619.02 L264.92 619.28 L265.97 619.54 L267.01 619.79 L268.06 620.03 L269.11 620.27 L270.16 620.50 L271.22 620.72 L272.27 620.94 L273.33 621.15 L274.38 621.35 L275.44 621.55 L276.49 621.75 L277.55 621.94 L278.61 622.13 L279.67 622.31 L280.73 622.48 L281.79 622.66 L282.85 622.82 L283.91 622.99 L284.98 623.15 L286.04 623.30 L287.10 623.45 L288.17 623.60 L289.23 623.74 L290.30 623.88 L291.36 624.01 L292.43 624.14 L293.50 624.27 L294.56 624.39 L295.63 624.51 L296.70 624.62 L297.77 624.74 L298.84 624.85 L299.91 624.95 L300.98 625.05 L302.05 625.15 L303.12 625.25 L304.19 625.34 L305.26 625.43 L306.33 625.52 L307.40 625.61 L308.48 625.69 L309.55 625.77 L310.62 625.84 L311.69 625.92 L312.77 625.99 L313.84 626.06 L314.91 626.13 L315.99 626.20 L317.06 626.26 L318.14 626.32 L319.21 626.38 L320.28 626.44 L321.36 626.50 L322.43 626.55 L323.51 626.60 L324.58 626.66 L325.66 626.71 L326.73 626.75 L327.81 626.80 L328.88 626.85 L329.96 626.89 L331.03 626.94 L332.11 626.98 L333.18 627.03 L334.26 627.07 L335.33 627.11 L336.41 627.15 L337.48 627.19 L338.56 627.23 L339.63 627.27 L340.71 627.31 L341.78 627.34 L342.86 627.38 L343.93 627.42 L345.00 627.46 L346.08 627.49 L347.15 627.53 L348.22 627.56 L349.30 627.59 L350.37 627.62 L351.44 627.65 L352.52 627.68 L353.59 627.70 L354.67 627.73 L355.74 627.74 L356.81 627.76 L357.89 627.77 L358.96 627.78 L360.04 627.79 L361.11 627.79 L362.18 627.79 L363.26 627.79 L364.33 627.78 L365.41 627.77 L366.48 627.76 L367.56 627.74 L368.63 627.72 L369.71 627.70 L370.78 627.68 L371.86 627.66 L372.93 627.64 L374.01 627.62 L375.09 627.59 L376.16 627.57 L377.24 627.56 L378.31 627.54 L379.39 627.52 L380.46 627.51 L381.54 627.51 L382.61 627.50 L383.69 627.50 L384.76 627.50 L385.84 627.51 L386.92 627.53 L387.99 627.54 L389.06 627.56 L390.14 627.59 L391.21 627.61 L392.29 627.64 L393.36 627.67 L394.44 627.70 L395.51 627.73 L396.59 627.76 L397.66 627.78 L398.74 627.81 L399.81 627.84 L400.89 627.86 L401.96 627.88 L403.04 627.89 L404.11 627.90 L405.19 627.91 L406.26 627.91 L407.34 627.90 L408.41 627.89 L409.49 627.88 L410.56 627.85 L411.64 627.82 L412.71 627.79 L413.79 627.76 L414.86 627.72 L415.94 627.68 L417.01 627.64 L418.09 627.60 L419.17 627.56 L420.24 627.53 L421.32 627.50 L422.39 627.47 L423.47 627.45 L424.54 627.43 L425.61 627.42 L426.69 627.42 L427.76 627.43 L428.84 627.45 L429.91 627.48 L430.98 627.52 L432.05 627.57 L433.13 627.63 L434.20 627.70 L435.27 627.79 L436.34 627.87 L437.41 627.97 L438.48 628.07 L439.56 628.17 L440.63 628.27 L441.70 628.38 L442.77 628.49 L443.84 628.59 L444.91 628.70 L445.98 628.80 L447.05 628.89 L448.12 628.98 L449.20 629.07 L450.27 629.14 L451.34 629.21 L452.41 629.27 L453.49 629.31 L454.56 629.34 L455.63 629.37 L456.70 629.38 L457.78 629.38 L458.85 629.37 L459.93 629.36 L461.00 629.33 L462.08 629.31 L463.15 629.27 L464.23 629.23 L465.30 629.19 L466.38 629.14 L467.45 629.09 L468.53 629.04 L469.60 628.98 L470.68 628.93 L471.75 628.88 L472.83 628.82 L473.90 628.77 L474.98 628.73 L476.05 628.68 L477.13 628.64 L478.20 628.60 L479.28 628.57 L480.35 628.54 L481.43 628.51 L482.50 628.48 L483.58 628.46 L484.65 628.44 L485.73 628.42 L486.80 628.40 L487.88 628.39 L488.95 628.37 L490.03 628.36 L491.10 628.35 L492.18 628.34 L493.25 628.33 L494.33 628.32 L495.40 628.31 L496.48 628.31 L497.55 628.30 L498.63 628.29 L499.70 628.29 L500.77 628.28 L501.85 628.27 L502.92 628.26 L504.00 628.25 L505.07 628.24 L506.15 628.23 L507.22 628.22 L508.30 628.20"/>
</g>
<path class="dot" stroke-dashoffset="2.2" d="M72.00 636.59 L73.01 636.34 L74.06 636.15 L75.15 636.04 L76.27 635.97 L77.43 635.95 L78.61 635.97 L79.80 636.02 L81.02 636.09 L82.24 636.17 L83.48 636.24 L84.72 636.31 L85.95 636.37 L87.18 636.40 L88.40 636.39 L89.60 636.34 L90.79 636.24 L91.95 636.07 L93.08 635.84 L94.19 635.52 L95.25 635.12 L96.28 634.62 L97.26 634.04 L98.21 633.39 L99.12 632.67 L100.00 631.90 L100.85 631.09 L101.66 630.25 L102.44 629.39 L103.20 628.51 L103.92 627.62 L104.62 626.71 L105.29 625.78 L105.94 624.84 L106.56 623.88 L107.16 622.91 L107.73 621.93 L108.28 620.93 L108.81 619.92 L109.32 618.90 L109.81 617.87 L110.29 616.83 L110.74 615.78 L111.18 614.71 L111.60 613.64 L112.01 612.56 L112.40 611.48 L112.78 610.38 L113.14 609.28 L113.50 608.17 L113.84 607.06 L114.17 605.94 L114.50 604.82 L114.81 603.69 L115.12 602.56 L115.42 601.43 L115.72 600.30 L116.01 599.16 L116.30 598.02 L116.59 596.88 L116.87 595.74 L117.15 594.61 L117.44 593.47 L117.72 592.33 L118.00 591.20 L118.27 590.06 L118.55 588.93 L118.83 587.79 L119.10 586.66 L119.38 585.52 L119.65 584.39 L119.92 583.26 L120.19 582.13 L120.46 581.00 L120.73 579.86 L121.00 578.73 L121.27 577.60 L121.53 576.47 L121.80 575.34 L122.06 574.21 L122.32 573.08 L122.58 571.95 L122.84 570.82 L123.10 569.70 L123.36 568.57 L123.62 567.44 L123.87 566.31 L124.13 565.18 L124.38 564.05 L124.63 562.92 L124.89 561.80 L125.14 560.67 L125.38 559.54 L125.63 558.41 L125.88 557.28 L126.12 556.15 L126.37 555.02 L126.61 553.89 L126.85 552.77 L127.09 551.64 L127.33 550.51 L127.57 549.38 L127.81 548.25 L128.04 547.12 L128.28 545.99 L128.51 544.85 L128.74 543.72 L128.97 542.59 L129.20 541.46 L129.43 540.33 L129.66 539.19 L129.88 538.06 L130.11 536.93 L130.33 535.79 L130.55 534.66 L130.77 533.52 L130.99 532.39 L131.21 531.25 L131.43 530.11 L131.65 528.98 L131.86 527.84 L132.08 526.70 L132.29 525.56 L132.51 524.42 L132.72 523.29 L132.93 522.15 L133.14 521.01 L133.35 519.87 L133.57 518.73 L133.78 517.59 L133.99 516.45 L134.20 515.31 L134.41 514.17 L134.61 513.03 L134.82 511.89 L135.03 510.75 L135.24 509.61 L135.45 508.46 L135.66 507.32 L135.87 506.18 L136.08 505.04 L136.29 503.90 L136.50 502.76 L136.71 501.62 L136.92 500.48 L137.13 499.34 L137.34 498.20 L137.55 497.05 L137.76 495.91 L137.98 494.77 L138.19 493.63 L138.40 492.49 L138.62 491.35 L138.83 490.21 L139.05 489.07 L139.27 487.93 L139.49 486.79 L139.70 485.65 L139.93 484.51 L140.15 483.37 L140.37 482.23 L140.59 481.10 L140.82 479.96 L141.04 478.82 L141.27 477.68 L141.50 476.55 L141.73 475.41 L141.96 474.27 L142.20 473.14 L142.43 472.00 L142.67 470.87 L142.91 469.73 L143.15 468.60 L143.39 467.46 L143.63 466.33 L143.88 465.20 L144.12 464.07 L144.37 462.93 L144.62 461.80 L144.88 460.67 L145.13 459.54 L145.39 458.41 L145.65 457.29 L145.91 456.16 L146.18 455.03 L146.44 453.90 L146.71 452.78 L146.98 451.65 L147.25 450.52 L147.53 449.40 L147.80 448.28 L148.08 447.15 L148.36 446.03 L148.64 444.90 L148.93 443.78 L149.21 442.66 L149.50 441.54 L149.79 440.42 L150.08 439.30 L150.37 438.18 L150.67 437.06 L150.97 435.94 L151.27 434.82 L151.57 433.70 L151.87 432.58 L152.17 431.46 L152.48 430.35 L152.79 429.23 L153.09 428.11 L153.41 427.00 L153.72 425.88 L154.03 424.77 L154.35 423.65 L154.67 422.54 L154.99 421.42 L155.31 420.31 L155.63 419.19 L155.96 418.08 L156.29 416.97 L156.62 415.86 L156.96 414.75 L157.31 413.65 L157.65 412.54 L158.01 411.44 L158.37 410.34 L158.74 409.24 L159.11 408.14 L159.49 407.05 L159.88 405.96 L160.28 404.87 L160.69 403.79 L161.10 402.71 L161.53 401.64 L161.97 400.56 L162.41 399.50 L162.87 398.43 L163.34 397.37 L163.82 396.32 L164.31 395.27 L164.82 394.23 L165.34 393.19 L165.87 392.15 L166.42 391.13 L166.99 390.10 L167.56 389.09 L168.16 388.08 L168.77 387.08 L169.39 386.08 L170.04 385.09 L170.70 384.11 L171.38 383.15 L172.09 382.22 L172.82 381.31 L173.58 380.43 L174.37 379.59 L175.20 378.80 L176.06 378.05 L176.95 377.36 L177.89 376.72 L178.87 376.15 L179.89 375.65 L180.96 375.23 L182.07 374.89 L183.21 374.63 L184.38 374.46 L185.55 374.40 L186.72 374.44 L187.87 374.59 L188.98 374.86 L190.07 375.24 L191.12 375.71 L192.14 376.26 L193.12 376.89 L194.08 377.57 L195.01 378.29 L195.91 379.04 L196.79 379.81 L197.64 380.60 L198.48 381.41 L199.29 382.23 L200.10 383.06 L200.89 383.91 L201.68 384.76 L202.46 385.61 L203.24 386.47 L204.01 387.34 L204.77 388.21 L205.52 389.09 L206.27 389.98 L207.01 390.87 L207.75 391.76 L208.48 392.67 L209.20 393.57 L209.92 394.48 L210.63 395.40 L211.33 396.32 L212.03 397.25 L212.72 398.18 L213.41 399.11 L214.09 400.05 L214.76 400.99 L215.43 401.94 L216.09 402.90 L216.75 403.85 L217.40 404.81 L218.04 405.78 L218.68 406.74 L219.31 407.72 L219.94 408.69 L220.56 409.67 L221.18 410.65 L221.79 411.64 L222.40 412.63 L223.00 413.62 L223.59 414.61 L224.18 415.61 L224.76 416.61 L225.34 417.62 L225.92 418.62 L226.49 419.63 L227.05 420.64 L227.61 421.65 L228.16 422.67 L228.72 423.69 L229.26 424.71 L229.80 425.73 L230.34 426.76 L230.88 427.78 L231.41 428.81 L231.93 429.84 L232.46 430.88 L232.98 431.91 L233.49 432.95 L234.01 433.99 L234.52 435.03 L235.02 436.07 L235.53 437.11 L236.03 438.16 L236.53 439.20 L237.02 440.25 L237.52 441.30 L238.01 442.35 L238.50 443.40 L238.99 444.45 L239.48 445.50 L239.96 446.55 L240.44 447.61 L240.92 448.66 L241.40 449.72 L241.88 450.78 L242.36 451.83 L242.84 452.89 L243.31 453.95 L243.79 455.01 L244.26 456.07 L244.73 457.13 L245.21 458.18 L245.68 459.24 L246.15 460.30 L246.63 461.36 L247.10 462.42 L247.57 463.48 L248.04 464.54 L248.52 465.60 L248.99 466.66 L249.47 467.72 L249.94 468.77 L250.42 469.83 L250.90 470.89 L251.38 471.94 L251.86 473.00 L252.34 474.05 L252.82 475.11 L253.31 476.16 L253.79 477.21 L254.28 478.26 L254.77 479.31 L255.27 480.36 L255.76 481.41 L256.26 482.45 L256.76 483.50 L257.26 484.54 L257.77 485.58 L258.27 486.62 L258.78 487.66 L259.30 488.70 L259.82 489.74 L260.34 490.77 L260.86 491.80 L261.39 492.83 L261.92 493.86 L262.46 494.88 L263.00 495.91 L263.54 496.93 L264.09 497.95 L264.64 498.96 L265.19 499.98 L265.75 500.99 L266.31 502.01 L266.87 503.02 L267.44 504.03 L268.00 505.03 L268.58 506.04 L269.15 507.05 L269.73 508.05 L270.31 509.05 L270.89 510.05 L271.47 511.05 L272.06 512.05 L272.65 513.05 L273.24 514.05 L273.83 515.04 L274.42 516.04 L275.02 517.03 L275.62 518.03 L276.22 519.02 L276.82 520.02 L277.42 521.01 L278.02 522.00 L278.62 522.99 L279.23 523.98 L279.83 524.98 L280.44 525.97 L281.04 526.96 L281.65 527.95 L282.26 528.94 L282.86 529.93 L283.47 530.92 L284.08 531.91 L284.69 532.90 L285.30 533.89 L285.92 534.88 L286.53 535.86 L287.15 536.85 L287.77 537.83 L288.40 538.81 L289.02 539.79 L289.65 540.76 L290.29 541.73 L290.92 542.70 L291.56 543.66 L292.21 544.62 L292.86 545.57 L293.51 546.52 L294.17 547.47 L294.84 548.41 L295.51 549.35 L296.18 550.28 L296.86 551.21 L297.54 552.13 L298.23 553.05 L298.92 553.97 L299.62 554.89 L300.31 555.80 L301.01 556.71 L301.72 557.63 L302.42 558.54 L303.13 559.45 L303.83 560.37 L304.54 561.29 L305.25 562.20 L305.96 563.12 L306.67 564.04 L307.39 564.96 L308.10 565.88 L308.82 566.80 L309.54 567.72 L310.26 568.63 L310.99 569.55 L311.71 570.46 L312.45 571.37 L313.18 572.28 L313.92 573.18 L314.66 574.08 L315.41 574.98 L316.17 575.87 L316.92 576.76 L317.69 577.64 L318.45 578.52 L319.23 579.39 L320.01 580.25 L320.79 581.11 L321.59 581.96 L322.38 582.80 L323.19 583.63 L324.00 584.46 L324.82 585.28 L325.65 586.09 L326.49 586.89 L327.33 587.67 L328.18 588.45 L329.05 589.22 L329.92 589.98 L330.79 590.73 L331.68 591.46 L332.58 592.18 L333.49 592.90 L334.40 593.60 L335.32 594.29 L336.25 594.97 L337.19 595.64 L338.13 596.30 L339.08 596.95 L340.04 597.59 L341.01 598.22 L341.98 598.85 L342.96 599.46 L343.95 600.06 L344.94 600.66 L345.93 601.25 L346.94 601.83 L347.95 602.40 L348.96 602.96 L349.98 603.51 L351.00 604.06 L352.03 604.60 L353.06 605.13 L354.09 605.65 L355.13 606.17 L356.18 606.68 L357.22 607.19 L358.27 607.69 L359.33 608.18 L360.38 608.66 L361.44 609.14 L362.50 609.62 L363.56 610.08 L364.63 610.55 L365.70 611.00 L366.76 611.46 L367.84 611.90 L368.91 612.35 L369.98 612.78 L371.06 613.22 L372.14 613.64 L373.22 614.07 L374.30 614.48 L375.38 614.90 L376.47 615.31 L377.55 615.71 L378.64 616.11 L379.73 616.51 L380.82 616.90 L381.91 617.28 L383.00 617.67 L384.10 618.05 L385.20 618.42 L386.29 618.79 L387.39 619.16 L388.49 619.52 L389.59 619.88 L390.70 620.24 L391.80 620.59 L392.91 620.94 L394.01 621.29 L395.12 621.63 L396.23 621.97 L397.34 622.31 L398.45 622.64 L399.56 622.98 L400.67 623.30 L401.78 623.63 L402.89 623.95 L404.01 624.27 L405.12 624.58 L406.24 624.89 L407.36 625.20 L408.48 625.50 L409.60 625.80 L410.72 626.09 L411.84 626.38 L412.96 626.66 L414.09 626.94 L415.21 627.21 L416.34 627.47 L417.47 627.73 L418.60 627.98 L419.73 628.23 L420.86 628.47 L421.99 628.70 L423.13 628.92 L424.27 629.14 L425.41 629.35 L426.55 629.55 L427.69 629.74 L428.83 629.92 L429.97 630.09 L431.12 630.26 L432.27 630.41 L433.42 630.56 L434.57 630.69 L435.72 630.82 L436.88 630.94 L438.04 631.04 L439.20 631.14 L440.36 631.22 L441.52 631.29 L442.68 631.35 L443.85 631.40 L445.02 631.44"/>
<path class="dot" stroke-dashoffset="-2.0" d="M72.00 636.57 L72.75 636.48 L73.51 636.41 L74.27 636.35 L75.05 636.31 L75.83 636.28 L76.62 636.26 L77.42 636.24 L78.22 636.24 L79.03 636.24 L79.84 636.24 L80.66 636.25 L81.48 636.27 L82.31 636.28 L83.13 636.29 L83.96 636.30 L84.79 636.31 L85.62 636.31 L86.46 636.31 L87.29 636.30 L88.12 636.28 L88.95 636.25 L89.77 636.21 L90.59 636.15 L91.41 636.09 L92.23 636.00 L93.04 635.90 L93.85 635.78 L94.65 635.64 L95.44 635.48 L96.23 635.30 L97.00 635.10 L97.78 634.88 L98.54 634.63 L99.29 634.37 L100.04 634.08 L100.78 633.78 L101.51 633.46 L102.22 633.11 L102.93 632.75 L103.63 632.38 L104.32 631.98 L105.00 631.57 L105.66 631.14 L106.32 630.70 L106.96 630.24 L107.59 629.76 L108.21 629.27 L108.81 628.77 L109.41 628.25 L109.98 627.72 L110.55 627.18 L111.10 626.62 L111.64 626.05 L112.16 625.47 L112.67 624.88 L113.17 624.27 L113.66 623.66 L114.13 623.03 L114.60 622.39 L115.05 621.75 L115.49 621.09 L115.93 620.43 L116.35 619.76 L116.76 619.08 L117.17 618.39 L117.56 617.69 L117.95 616.99 L118.33 616.28 L118.70 615.57 L119.06 614.85 L119.42 614.12 L119.77 613.39 L120.11 612.65 L120.45 611.91 L120.78 611.16 L121.11 610.41 L121.43 609.66 L121.75 608.91 L122.07 608.15 L122.38 607.39 L122.68 606.63 L122.99 605.86 L123.29 605.10 L123.59 604.33 L123.89 603.57 L124.19 602.80 L124.48 602.04 L124.78 601.27 L125.07 600.51 L125.37 599.75 L125.66 598.99 L125.95 598.23 L126.24 597.47 L126.54 596.71 L126.83 595.95 L127.12 595.19 L127.41 594.43 L127.70 593.68 L127.99 592.92 L128.28 592.17 L128.57 591.42 L128.86 590.66 L129.15 589.91 L129.44 589.16 L129.72 588.41 L130.01 587.66 L130.30 586.91 L130.59 586.16 L130.88 585.41 L131.17 584.66 L131.46 583.91 L131.74 583.17 L132.03 582.42 L132.32 581.67 L132.61 580.93 L132.90 580.18 L133.19 579.44 L133.48 578.70 L133.77 577.95 L134.06 577.21 L134.35 576.47 L134.64 575.73 L134.94 574.99 L135.23 574.24 L135.52 573.50 L135.82 572.76 L136.11 572.02 L136.40 571.28 L136.70 570.55 L137.00 569.81 L137.29 569.07 L137.59 568.33 L137.89 567.59 L138.19 566.86 L138.49 566.12 L138.79 565.38 L139.09 564.65 L139.39 563.91 L139.70 563.17 L140.00 562.44 L140.31 561.70 L140.61 560.97 L140.92 560.23 L141.23 559.50 L141.54 558.76 L141.85 558.03 L142.16 557.29 L142.48 556.56 L142.79 555.82 L143.11 555.09 L143.43 554.36 L143.75 553.62 L144.07 552.89 L144.39 552.16 L144.71 551.42 L145.04 550.69 L145.36 549.95 L145.69 549.22 L146.02 548.49 L146.35 547.75 L146.69 547.02 L147.02 546.29 L147.36 545.55 L147.70 544.82 L148.04 544.08 L148.38 543.35 L148.72 542.62 L149.07 541.88 L149.42 541.15 L149.77 540.41 L150.12 539.68 L150.47 538.95 L150.83 538.21 L151.19 537.48 L151.55 536.75 L151.92 536.02 L152.29 535.30 L152.67 534.57 L153.04 533.85 L153.43 533.13 L153.82 532.42 L154.21 531.71 L154.61 531.00 L155.01 530.29 L155.42 529.59 L155.84 528.90 L156.26 528.21 L156.69 527.52 L157.12 526.84 L157.56 526.17 L158.01 525.50 L158.47 524.84 L158.93 524.18 L159.40 523.53 L159.88 522.89 L160.37 522.25 L160.87 521.63 L161.37 521.01 L161.89 520.40 L162.41 519.80 L162.94 519.20 L163.49 518.62 L164.04 518.04 L164.60 517.48 L165.18 516.92 L165.76 516.38 L166.36 515.84 L166.96 515.32 L167.58 514.81 L168.21 514.31 L168.85 513.82 L169.50 513.34 L170.16 512.88 L170.83 512.44 L171.51 512.00 L172.20 511.59 L172.90 511.18 L173.60 510.80 L174.32 510.43 L175.04 510.09 L175.76 509.76 L176.50 509.45 L177.24 509.16 L177.98 508.89 L178.73 508.64 L179.49 508.42 L180.24 508.21 L181.01 508.03 L181.77 507.88 L182.54 507.75 L183.32 507.64 L184.09 507.57 L184.87 507.51 L185.65 507.49 L186.43 507.49 L187.21 507.52 L187.99 507.58 L188.77 507.68 L189.55 507.80 L190.33 507.94 L191.10 508.12 L191.88 508.31 L192.66 508.53 L193.43 508.78 L194.20 509.04 L194.97 509.32 L195.74 509.63 L196.50 509.94 L197.26 510.27 L198.02 510.62 L198.77 510.98 L199.52 511.35 L200.27 511.73 L201.01 512.11 L201.74 512.51 L202.47 512.91 L203.20 513.31 L203.92 513.72 L204.63 514.13 L205.34 514.54 L206.04 514.96 L206.74 515.37 L207.43 515.79 L208.12 516.22 L208.80 516.65 L209.48 517.08 L210.15 517.51 L210.82 517.95 L211.49 518.39 L212.15 518.84 L212.81 519.28 L213.47 519.74 L214.12 520.19 L214.76 520.65 L215.41 521.12 L216.05 521.59 L216.69 522.06 L217.33 522.54 L217.96 523.02 L218.59 523.50 L219.22 523.99 L219.84 524.48 L220.47 524.98 L221.09 525.48 L221.70 525.99 L222.32 526.50 L222.93 527.01 L223.54 527.52 L224.15 528.04 L224.76 528.56 L225.36 529.09 L225.97 529.61 L226.57 530.15 L227.16 530.68 L227.76 531.22 L228.35 531.75 L228.94 532.30 L229.53 532.84 L230.12 533.39 L230.71 533.94 L231.29 534.49 L231.87 535.04 L232.46 535.60 L233.03 536.16 L233.61 536.72 L234.19 537.28 L234.76 537.84 L235.33 538.41 L235.91 538.97 L236.48 539.54 L237.04 540.11 L237.61 540.68 L238.18 541.25 L238.74 541.83 L239.30 542.40 L239.87 542.98 L240.43 543.56 L240.99 544.13 L241.55 544.71 L242.11 545.29 L242.67 545.88 L243.22 546.46 L243.78 547.04 L244.34 547.62 L244.89 548.21 L245.45 548.79 L246.00 549.37 L246.56 549.96 L247.11 550.54 L247.66 551.13 L248.22 551.71 L248.77 552.30 L249.33 552.88 L249.88 553.47 L250.43 554.05 L250.99 554.64 L251.54 555.22 L252.10 555.81 L252.65 556.39 L253.21 556.97 L253.76 557.56 L254.32 558.14 L254.88 558.72 L255.43 559.30 L255.99 559.88 L256.55 560.46 L257.11 561.04 L257.67 561.61 L258.23 562.19 L258.79 562.76 L259.36 563.34 L259.92 563.91 L260.49 564.48 L261.05 565.05 L261.62 565.62 L262.19 566.18 L262.76 566.75 L263.34 567.31 L263.91 567.87 L264.48 568.43 L265.06 568.98 L265.64 569.54 L266.22 570.09 L266.80 570.64 L267.39 571.19 L267.97 571.74 L268.56 572.28 L269.15 572.82 L269.75 573.36 L270.34 573.90 L270.94 574.43 L271.54 574.96 L272.14 575.49 L272.74 576.01 L273.35 576.54 L273.96 577.06 L274.57 577.57 L275.18 578.09 L275.80 578.60 L276.42 579.10 L277.04 579.61 L277.66 580.11 L278.29 580.61 L278.92 581.11 L279.54 581.61 L280.18 582.10 L280.81 582.59 L281.44 583.08 L282.08 583.57 L282.72 584.05 L283.36 584.54 L284.00 585.02 L284.65 585.50 L285.29 585.98 L285.94 586.46 L286.58 586.93 L287.23 587.41 L287.88 587.88 L288.53 588.36 L289.18 588.83 L289.84 589.30 L290.49 589.77 L291.14 590.24 L291.80 590.71 L292.46 591.18 L293.11 591.64 L293.77 592.11 L294.43 592.58 L295.08 593.05 L295.74 593.51 L296.40 593.98 L297.06 594.45 L297.72 594.91 L298.38 595.38 L299.04 595.85 L299.70 596.31 L300.35 596.78 L301.01 597.25 L301.67 597.72 L302.33 598.18 L302.99 598.65 L303.66 599.11 L304.32 599.58 L304.98 600.04 L305.64 600.50 L306.31 600.96 L306.97 601.41 L307.64 601.87 L308.31 602.32 L308.98 602.77 L309.65 603.21 L310.32 603.66 L311.00 604.10 L311.67 604.53 L312.35 604.96 L313.03 605.39 L313.72 605.82 L314.40 606.24 L315.09 606.65 L315.78 607.06 L316.47 607.47 L317.16 607.87 L317.86 608.26 L318.56 608.65 L319.26 609.03 L319.96 609.41 L320.67 609.78 L321.38 610.15 L322.09 610.51 L322.81 610.86 L323.53 611.22 L324.25 611.56 L324.97 611.90 L325.69 612.24 L326.42 612.56 L327.15 612.89 L327.88 613.21 L328.62 613.52 L329.35 613.83 L330.09 614.14 L330.83 614.44 L331.58 614.73 L332.32 615.02 L333.07 615.31 L333.82 615.59 L334.57 615.87 L335.32 616.14 L336.07 616.41 L336.83 616.67 L337.59 616.93 L338.35 617.19 L339.11 617.44 L339.87 617.69 L340.63 617.93 L341.40 618.17 L342.17 618.40 L342.94 618.64 L343.71 618.86 L344.48 619.09 L345.25 619.31 L346.03 619.52 L346.80 619.73 L347.58 619.94 L348.36 620.15 L349.14 620.35 L349.92 620.55 L350.70 620.74 L351.48 620.94 L352.26 621.13 L353.05 621.31 L353.83 621.49 L354.62 621.67 L355.41 621.85 L356.20 622.02 L356.98 622.19 L357.77 622.36 L358.56 622.52 L359.35 622.69 L360.15 622.85 L360.94 623.00 L361.73 623.16 L362.52 623.31 L363.32 623.46 L364.11 623.60 L364.90 623.75 L365.70 623.89 L366.49 624.03 L367.29 624.17 L368.08 624.30 L368.88 624.44 L369.68 624.57 L370.47 624.70 L371.27 624.82 L372.06 624.95 L372.86 625.07 L373.65 625.19 L374.45 625.32 L375.25 625.43 L376.04 625.55 L376.84 625.66 L377.63 625.78 L378.43 625.89 L379.23 626.00 L380.02 626.11 L380.82 626.21 L381.61 626.32 L382.41 626.42 L383.21 626.52 L384.00 626.63 L384.80 626.72 L385.59 626.82 L386.39 626.92 L387.19 627.01 L387.98 627.11 L388.78 627.20 L389.58 627.29 L390.37 627.38 L391.17 627.47 L391.97 627.55 L392.76 627.64 L393.56 627.72 L394.36 627.81 L395.16 627.89 L395.95 627.97 L396.75 628.05 L397.55 628.13 L398.35 628.21 L399.14 628.29 L399.94 628.36 L400.74 628.44 L401.54 628.51 L402.34 628.58 L403.13 628.66 L403.93 628.73 L404.73 628.80 L405.53 628.87 L406.33 628.94 L407.13 629.01 L407.93 629.07 L408.72 629.14 L409.52 629.21 L410.32 629.27 L411.12 629.34 L411.92 629.40 L412.72 629.46 L413.52 629.53 L414.32 629.59 L415.12 629.65 L415.92 629.71 L416.72 629.78 L417.52 629.84 L418.32 629.90 L419.13 629.96 L419.93 630.02 L420.73 630.08 L421.53 630.13 L422.33 630.19 L423.13 630.25 L423.93 630.31 L424.74 630.37 L425.54 630.43 L426.34 630.48 L427.14 630.54 L427.95 630.60 L428.75 630.66 L429.55 630.71 L430.36 630.77 L431.16 630.83 L431.96 630.89 L432.77 630.94 L433.57 631.00 L434.38 631.06 L435.18 631.12 L435.99 631.17 L436.79 631.23 L437.60 631.29 L438.40 631.35 L439.21 631.41 L440.01 631.47"/>
<path class="dot" stroke-dashoffset="0.0" d="M452.00 632.00 L452.09 632.00 L452.19 632.01 L452.28 632.01 L452.38 632.01 L452.47 632.02 L452.57 632.02 L452.66 632.02 L452.75 632.03 L452.85 632.03 L452.94 632.03 L453.04 632.04 L453.13 632.04 L453.23 632.04 L453.32 632.05 L453.41 632.05 L453.51 632.05 L453.60 632.06 L453.70 632.06 L453.79 632.06 L453.89 632.07 L453.98 632.07 L454.07 632.07 L454.17 632.08 L454.26 632.08 L454.36 632.08 L454.45 632.09 L454.55 632.09 L454.64 632.09 L454.73 632.10 L454.83 632.10 L454.92 632.10 L455.02 632.10 L455.11 632.11 L455.21 632.11 L455.30 632.11 L455.39 632.12 L455.49 632.12 L455.58 632.12 L455.68 632.13 L455.77 632.13 L455.87 632.13 L455.96 632.14 L456.05 632.14 L456.15 632.14 L456.24 632.14 L456.34 632.15 L456.43 632.15 L456.53 632.15 L456.62 632.16 L456.71 632.16 L456.81 632.16 L456.90 632.17 L457.00 632.17 L457.09 632.17 L457.19 632.17 L457.28 632.18 L457.37 632.18 L457.47 632.18 L457.56 632.19 L457.66 632.19 L457.75 632.19 L457.85 632.20 L457.94 632.20 L458.03 632.20 L458.13 632.20 L458.22 632.21 L458.32 632.21 L458.41 632.21 L458.51 632.22 L458.60 632.22 L458.69 632.22 L458.79 632.22 L458.88 632.23 L458.98 632.23 L459.07 632.23 L459.17 632.24 L459.26 632.24 L459.35 632.24 L459.45 632.24 L459.54 632.25 L459.64 632.25 L459.73 632.25 L459.83 632.25 L459.92 632.26 L460.01 632.26 L460.11 632.26 L460.20 632.27 L460.30 632.27 L460.39 632.27 L460.49 632.27 L460.58 632.28 L460.68 632.28 L460.77 632.28 L460.86 632.28 L460.96 632.29 L461.05 632.29 L461.15 632.29 L461.24 632.30 L461.34 632.30 L461.43 632.30 L461.52 632.30 L461.62 632.31 L461.71 632.31 L461.81 632.31 L461.90 632.31 L462.00 632.32 L462.09 632.32 L462.18 632.32 L462.28 632.32 L462.37 632.33 L462.47 632.33 L462.56 632.33 L462.66 632.33 L462.75 632.34 L462.84 632.34 L462.94 632.34 L463.03 632.34 L463.13 632.35 L463.22 632.35 L463.32 632.35 L463.41 632.35 L463.50 632.36 L463.60 632.36 L463.69 632.36 L463.79 632.36 L463.88 632.37 L463.98 632.37 L464.07 632.37 L464.16 632.37 L464.26 632.38 L464.35 632.38 L464.45 632.38 L464.54 632.38 L464.64 632.39 L464.73 632.39 L464.82 632.39 L464.92 632.39 L465.01 632.40 L465.11 632.40 L465.20 632.40 L465.30 632.40 L465.39 632.41 L465.48 632.41 L465.58 632.41 L465.67 632.41 L465.77 632.42 L465.86 632.42 L465.96 632.42 L466.05 632.42 L466.14 632.42 L466.24 632.43 L466.33 632.43 L466.43 632.43 L466.52 632.43 L466.62 632.44 L466.71 632.44 L466.81 632.44 L466.90 632.44 L466.99 632.45 L467.09 632.45 L467.18 632.45 L467.28 632.45 L467.37 632.45 L467.47 632.46 L467.56 632.46 L467.65 632.46 L467.75 632.46 L467.84 632.47 L467.94 632.47 L468.03 632.47 L468.13 632.47 L468.22 632.47 L468.31 632.48 L468.41 632.48 L468.50 632.48 L468.60 632.48 L468.69 632.49 L468.79 632.49 L468.88 632.49 L468.97 632.49 L469.07 632.49 L469.16 632.50 L469.26 632.50 L469.35 632.50 L469.45 632.50 L469.54 632.50 L469.63 632.51 L469.73 632.51 L469.82 632.51 L469.92 632.51 L470.01 632.52 L470.11 632.52 L470.20 632.52 L470.29 632.52 L470.39 632.52 L470.48 632.53 L470.58 632.53 L470.67 632.53 L470.77 632.53 L470.86 632.53 L470.96 632.54 L471.05 632.54 L471.14 632.54 L471.24 632.54 L471.33 632.54 L471.43 632.55 L471.52 632.55 L471.62 632.55 L471.71 632.55 L471.80 632.55 L471.90 632.56 L471.99 632.56 L472.09 632.56 L472.18 632.56 L472.28 632.56 L472.37 632.57 L472.46 632.57 L472.56 632.57 L472.65 632.57 L472.75 632.57 L472.84 632.58 L472.94 632.58 L473.03 632.58 L473.12 632.58 L473.22 632.58 L473.31 632.58 L473.41 632.59 L473.50 632.59 L473.60 632.59 L473.69 632.59 L473.78 632.59 L473.88 632.60 L473.97 632.60 L474.07 632.60 L474.16 632.60 L474.26 632.60 L474.35 632.60 L474.44 632.61 L474.54 632.61 L474.63 632.61 L474.73 632.61 L474.82 632.61 L474.92 632.62 L475.01 632.62 L475.11 632.62 L475.20 632.62 L475.29 632.62 L475.39 632.62 L475.48 632.63 L475.58 632.63 L475.67 632.63 L475.77 632.63 L475.86 632.63 L475.95 632.64 L476.05 632.64 L476.14 632.64 L476.24 632.64 L476.33 632.64 L476.43 632.64 L476.52 632.65 L476.61 632.65 L476.71 632.65 L476.80 632.65 L476.90 632.65 L476.99 632.65 L477.09 632.66 L477.18 632.66 L477.27 632.66 L477.37 632.66 L477.46 632.66 L477.56 632.66 L477.65 632.67 L477.75 632.67 L477.84 632.67 L477.94 632.67 L478.03 632.67 L478.12 632.67 L478.22 632.68 L478.31 632.68 L478.41 632.68 L478.50 632.68 L478.60 632.68 L478.69 632.68 L478.78 632.69 L478.88 632.69 L478.97 632.69 L479.07 632.69 L479.16 632.69 L479.26 632.69 L479.35 632.69 L479.44 632.70 L479.54 632.70 L479.63 632.70 L479.73 632.70 L479.82 632.70 L479.92 632.70 L480.01 632.71 L480.10 632.71 L480.20 632.71 L480.29 632.71 L480.39 632.71 L480.48 632.71 L480.58 632.71 L480.67 632.72 L480.76 632.72 L480.86 632.72 L480.95 632.72 L481.05 632.72 L481.14 632.72 L481.24 632.72 L481.33 632.73 L481.43 632.73 L481.52 632.73 L481.61 632.73 L481.71 632.73 L481.80 632.73 L481.90 632.74 L481.99 632.74 L482.09 632.74 L482.18 632.74 L482.27 632.74 L482.37 632.74 L482.46 632.74 L482.56 632.75 L482.65 632.75 L482.75 632.75 L482.84 632.75 L482.93 632.75 L483.03 632.75 L483.12 632.75 L483.22 632.75 L483.31 632.76 L483.41 632.76 L483.50 632.76 L483.59 632.76 L483.69 632.76 L483.78 632.76 L483.88 632.76 L483.97 632.77 L484.07 632.77 L484.16 632.77 L484.26 632.77 L484.35 632.77 L484.44 632.77 L484.54 632.77 L484.63 632.78 L484.73 632.78 L484.82 632.78 L484.92 632.78 L485.01 632.78 L485.10 632.78 L485.20 632.78 L485.29 632.78 L485.39 632.79 L485.48 632.79 L485.58 632.79 L485.67 632.79 L485.76 632.79 L485.86 632.79 L485.95 632.79 L486.05 632.79 L486.14 632.80 L486.24 632.80 L486.33 632.80 L486.42 632.80 L486.52 632.80 L486.61 632.80 L486.71 632.80 L486.80 632.80 L486.90 632.81 L486.99 632.81 L487.09 632.81 L487.18 632.81 L487.27 632.81 L487.37 632.81 L487.46 632.81 L487.56 632.81 L487.65 632.81 L487.75 632.82 L487.84 632.82 L487.93 632.82 L488.03 632.82 L488.12 632.82 L488.22 632.82 L488.31 632.82 L488.41 632.82 L488.50 632.83 L488.59 632.83 L488.69 632.83 L488.78 632.83 L488.88 632.83 L488.97 632.83 L489.07 632.83 L489.16 632.83 L489.25 632.83 L489.35 632.84 L489.44 632.84 L489.54 632.84 L489.63 632.84 L489.73 632.84 L489.82 632.84 L489.92 632.84 L490.01 632.84 L490.10 632.84 L490.20 632.85 L490.29 632.85 L490.39 632.85 L490.48 632.85 L490.58 632.85 L490.67 632.85 L490.76 632.85 L490.86 632.85 L490.95 632.85 L491.05 632.86 L491.14 632.86 L491.24 632.86 L491.33 632.86 L491.42 632.86 L491.52 632.86 L491.61 632.86 L491.71 632.86 L491.80 632.86 L491.90 632.86 L491.99 632.87 L492.09 632.87 L492.18 632.87 L492.27 632.87 L492.37 632.87 L492.46 632.87 L492.56 632.87 L492.65 632.87 L492.75 632.87 L492.84 632.87 L492.93 632.88 L493.03 632.88 L493.12 632.88 L493.22 632.88 L493.31 632.88 L493.41 632.88 L493.50 632.88 L493.59 632.88 L493.69 632.88 L493.78 632.88 L493.88 632.89 L493.97 632.89 L494.07 632.89 L494.16 632.89 L494.25 632.89 L494.35 632.89 L494.44 632.89 L494.54 632.89 L494.63 632.89 L494.73 632.89 L494.82 632.89 L494.92 632.90 L495.01 632.90 L495.10 632.90 L495.20 632.90 L495.29 632.90 L495.39 632.90 L495.48 632.90 L495.58 632.90 L495.67 632.90 L495.76 632.90 L495.86 632.90 L495.95 632.91 L496.05 632.91 L496.14 632.91 L496.24 632.91 L496.33 632.91 L496.42 632.91 L496.52 632.91 L496.61 632.91 L496.71 632.91 L496.80 632.91 L496.90 632.91 L496.99 632.91 L497.09 632.92 L497.18 632.92 L497.27 632.92 L497.37 632.92 L497.46 632.92 L497.56 632.92 L497.65 632.92 L497.75 632.92 L497.84 632.92 L497.93 632.92 L498.03 632.92 L498.12 632.93 L498.22 632.93 L498.31 632.93 L498.41 632.93 L498.50 632.93 L498.59 632.93 L498.69 632.93 L498.78 632.93 L498.88 632.93 L498.97 632.93 L499.07 632.93 L499.16 632.93 L499.25 632.93 L499.35 632.94 L499.44 632.94 L499.54 632.94 L499.63 632.94 L499.73 632.94 L499.82 632.94 L499.92 632.94 L500.01 632.94 L500.10 632.94 L500.20 632.94 L500.29 632.94 L500.39 632.94 L500.48 632.94 L500.58 632.95 L500.67 632.95 L500.76 632.95 L500.86 632.95 L500.95 632.95 L501.05 632.95 L501.14 632.95 L501.24 632.95 L501.33 632.95 L501.42 632.95 L501.52 632.95 L501.61 632.95 L501.71 632.95 L501.80 632.96 L501.90 632.96 L501.99 632.96 L502.08 632.96 L502.18 632.96 L502.27 632.96 L502.37 632.96 L502.46 632.96 L502.56 632.96 L502.65 632.96 L502.75 632.96 L502.84 632.96 L502.93 632.96 L503.03 632.96 L503.12 632.96 L503.22 632.97 L503.31 632.97 L503.41 632.97 L503.50 632.97 L503.59 632.97 L503.69 632.97 L503.78 632.97 L503.88 632.97 L503.97 632.97 L504.07 632.97 L504.16 632.97 L504.25 632.97 L504.35 632.97 L504.44 632.97 L504.54 632.98 L504.63 632.98 L504.73 632.98 L504.82 632.98 L504.92 632.98 L505.01 632.98 L505.10 632.98 L505.20 632.98 L505.29 632.98 L505.39 632.98 L505.48 632.98 L505.58 632.98 L505.67 632.98 L505.76 632.98 L505.86 632.98 L505.95 632.98 L506.05 632.99 L506.14 632.99 L506.24 632.99 L506.33 632.99 L506.42 632.99 L506.52 632.99 L506.61 632.99 L506.71 632.99 L506.80 632.99 L506.90 632.99 L506.99 632.99 L507.08 632.99 L507.18 632.99 L507.27 632.99 L507.37 632.99 L507.46 632.99 L507.56 633.00 L507.65 633.00 L507.75 633.00 L507.84 633.00 L507.93 633.00 L508.03 633.00 L508.12 633.00 L508.22 633.00 L508.31 633.00 L508.41 633.00 L508.50 633.00"/>
<g filter="url(#sh)">
<path class="mk" d="M72.20 630.50 L77.80 641.90 L66.60 641.90Z"/>
<path class="mk" d="M94.61 629.70 L100.21 641.10 L89.01 641.10Z"/>
<path class="mk" d="M117.01 620.60 L122.61 632.00 L111.41 632.00Z"/>
<path class="mk" d="M139.42 616.20 L145.02 627.60 L133.82 627.60Z"/>
<path class="mk" d="M161.82 617.20 L167.42 628.60 L156.22 628.60Z"/>
<path class="mk" d="M184.23 621.50 L189.83 632.90 L178.63 632.90Z"/>
<path class="mk" d="M206.63 624.30 L212.23 635.70 L201.03 635.70Z"/>
<path class="mk" d="M229.04 626.30 L234.64 637.70 L223.44 637.70Z"/>
<path class="mk" d="M251.44 627.40 L257.04 638.80 L245.84 638.80Z"/>
<path class="mk" d="M273.85 627.90 L279.45 639.30 L268.25 639.30Z"/>
<path class="mk" d="M296.25 628.10 L301.85 639.50 L290.65 639.50Z"/>
<path class="mk" d="M318.66 628.10 L324.26 639.50 L313.06 639.50Z"/>
<path class="mk" d="M341.06 628.10 L346.66 639.50 L335.46 639.50Z"/>
<path class="mk" d="M363.47 628.10 L369.07 639.50 L357.87 639.50Z"/>
<path class="mk" d="M385.87 628.10 L391.47 639.50 L380.27 639.50Z"/>
<path class="mk" d="M408.28 628.10 L413.88 639.50 L402.68 639.50Z"/>
<path class="mk" d="M430.68 628.10 L436.28 639.50 L425.08 639.50Z"/>
<path class="mk" d="M453.09 628.10 L458.69 639.50 L447.49 639.50Z"/>
<path class="mk" d="M475.49 628.10 L481.09 639.50 L469.89 639.50Z"/>
<path class="mk" d="M497.90 628.10 L503.50 639.50 L492.30 639.50Z"/>
<path class="mk" d="M72.20 631.60 L77.40 636.80 L72.20 642.00 L67.00 636.80Z"/>
<path class="mk" d="M94.61 630.40 L99.81 635.60 L94.61 640.80 L89.41 635.60Z"/>
<path class="mk" d="M117.01 619.80 L122.21 625.00 L117.01 630.20 L111.81 625.00Z"/>
<path class="mk" d="M139.42 601.80 L144.62 607.00 L139.42 612.20 L134.22 607.00Z"/>
<path class="mk" d="M161.82 601.80 L167.02 607.00 L161.82 612.20 L156.62 607.00Z"/>
<path class="mk" d="M184.23 611.80 L189.43 617.00 L184.23 622.20 L179.03 617.00Z"/>
<path class="mk" d="M206.63 621.05 L211.83 626.25 L206.63 631.45 L201.43 626.25Z"/>
<path class="mk" d="M229.04 626.05 L234.24 631.25 L229.04 636.45 L223.84 631.25Z"/>
<path class="mk" d="M251.44 627.90 L256.64 633.10 L251.44 638.30 L246.24 633.10Z"/>
<path class="mk" d="M273.85 628.70 L279.05 633.90 L273.85 639.10 L268.65 633.90Z"/>
<path class="mk" d="M296.25 629.00 L301.45 634.20 L296.25 639.40 L291.05 634.20Z"/>
<path class="mk" d="M318.66 629.00 L323.86 634.20 L318.66 639.40 L313.46 634.20Z"/>
<path class="mk" d="M341.06 629.00 L346.26 634.20 L341.06 639.40 L335.86 634.20Z"/>
<path class="mk" d="M363.47 629.00 L368.67 634.20 L363.47 639.40 L358.27 634.20Z"/>
<path class="mk" d="M385.87 629.00 L391.07 634.20 L385.87 639.40 L380.67 634.20Z"/>
<path class="mk" d="M408.28 629.00 L413.48 634.20 L408.28 639.40 L403.08 634.20Z"/>
<path class="mk" d="M430.68 629.00 L435.88 634.20 L430.68 639.40 L425.48 634.20Z"/>
<path class="mk" d="M453.09 629.00 L458.29 634.20 L453.09 639.40 L447.89 634.20Z"/>
<path class="mk" d="M475.49 629.00 L480.69 634.20 L475.49 639.40 L470.29 634.20Z"/>
<path class="mk" d="M497.90 629.00 L503.10 634.20 L497.90 639.40 L492.70 634.20Z"/>
<rect class="mk" x="67.00" y="631.60" width="10.40" height="10.40"/><rect x="69.20" y="633.90" width="6.00" height="1.1" fill="#3c3c3c"/>
<rect class="mk" x="89.41" y="628.80" width="10.40" height="10.40"/><rect x="91.61" y="631.10" width="6.00" height="1.1" fill="#3c3c3c"/>
<rect class="mk" x="111.81" y="598.80" width="10.40" height="10.40"/><rect x="114.01" y="601.10" width="6.00" height="1.1" fill="#3c3c3c"/>
<rect class="mk" x="134.22" y="538.30" width="10.40" height="10.40"/><rect x="136.42" y="540.60" width="6.00" height="1.1" fill="#3c3c3c"/>
<rect class="mk" x="156.62" y="529.10" width="10.40" height="10.40"/><rect x="158.82" y="531.40" width="6.00" height="1.1" fill="#3c3c3c"/>
<rect class="mk" x="179.03" y="554.80" width="10.40" height="10.40"/><rect x="181.23" y="557.10" width="6.00" height="1.1" fill="#3c3c3c"/>
<rect class="mk" x="201.43" y="581.60" width="10.40" height="10.40"/><rect x="203.63" y="583.90" width="6.00" height="1.1" fill="#3c3c3c"/>
<rect class="mk" x="223.84" y="598.55" width="10.40" height="10.40"/><rect x="226.04" y="600.85" width="6.00" height="1.1" fill="#3c3c3c"/>
<rect class="mk" x="246.24" y="609.80" width="10.40" height="10.40"/><rect x="248.44" y="612.10" width="6.00" height="1.1" fill="#3c3c3c"/>
<rect class="mk" x="268.65" y="616.05" width="10.40" height="10.40"/><rect x="270.85" y="618.35" width="6.00" height="1.1" fill="#3c3c3c"/>
<rect class="mk" x="291.05" y="619.30" width="10.40" height="10.40"/><rect x="293.25" y="621.60" width="6.00" height="1.1" fill="#3c3c3c"/>
<rect class="mk" x="313.46" y="621.20" width="10.40" height="10.40"/><rect x="315.66" y="623.50" width="6.00" height="1.1" fill="#3c3c3c"/>
<rect class="mk" x="335.86" y="622.10" width="10.40" height="10.40"/><rect x="338.06" y="624.40" width="6.00" height="1.1" fill="#3c3c3c"/>
<rect class="mk" x="358.27" y="622.60" width="10.40" height="10.40"/><rect x="360.47" y="624.90" width="6.00" height="1.1" fill="#3c3c3c"/>
<rect class="mk" x="380.67" y="622.30" width="10.40" height="10.40"/><rect x="382.87" y="624.60" width="6.00" height="1.1" fill="#3c3c3c"/>
<rect class="mk" x="403.08" y="622.70" width="10.40" height="10.40"/><rect x="405.28" y="625.00" width="6.00" height="1.1" fill="#3c3c3c"/>
<rect class="mk" x="425.48" y="622.30" width="10.40" height="10.40"/><rect x="427.68" y="624.60" width="6.00" height="1.1" fill="#3c3c3c"/>
<rect class="mk" x="447.89" y="624.10" width="10.40" height="10.40"/><rect x="450.09" y="626.40" width="6.00" height="1.1" fill="#3c3c3c"/>
<rect class="mk" x="470.29" y="623.50" width="10.40" height="10.40"/><rect x="472.49" y="625.80" width="6.00" height="1.1" fill="#3c3c3c"/>
<rect class="mk" x="492.70" y="623.10" width="10.40" height="10.40"/><rect x="494.90" y="625.40" width="6.00" height="1.1" fill="#3c3c3c"/>
</g>
<text class="pl" text-anchor="start" transform="translate(1.20 351.10) scale(0.930 1)">B</text>
<text style="font-size:19.4px" class="ttl" text-anchor="middle" transform="translate(20.60 503.40) rotate(-90) scale(1.026 1)">[Thrombin] (nM)</text>
<text class="ttl" text-anchor="middle" transform="translate(275.20 681.30) scale(1.033 1)">Time (minutes)</text>
</g></svg></body></html>
